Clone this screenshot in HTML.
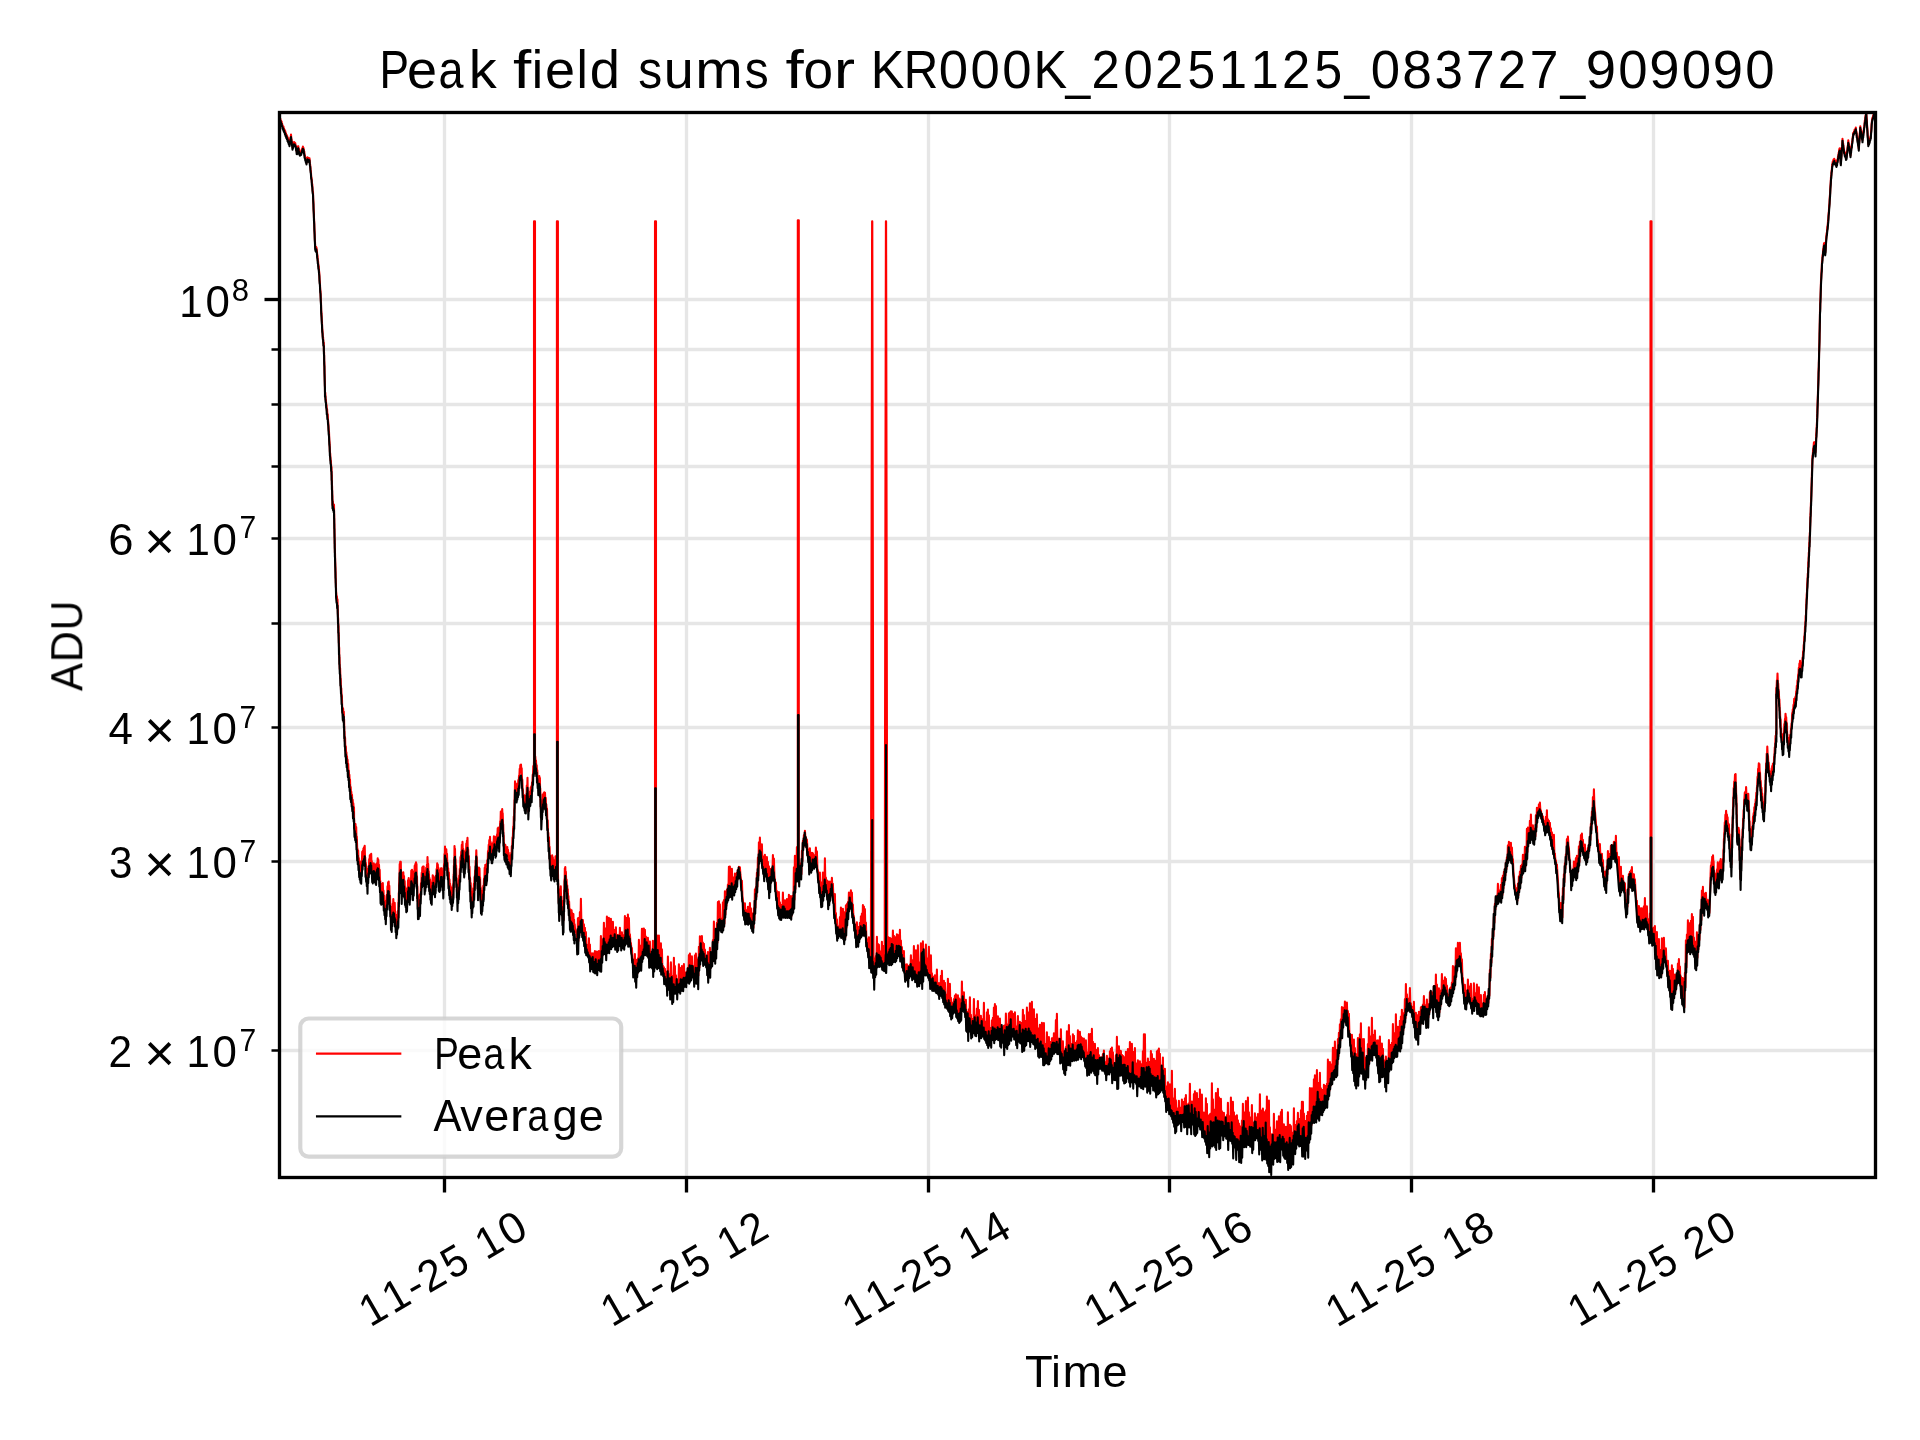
<!DOCTYPE html>
<html lang="en"><head><meta charset="utf-8"><title>Peak field sums for KR000K_20251125_083727_909090</title>
<style>html,body{margin:0;padding:0;background:#fff;width:1920px;height:1440px;overflow:hidden}svg{position:absolute;left:0;top:0}text{font-family:"Liberation Sans",sans-serif}</style></head>
<body>
<svg width="1920" height="1440" viewBox="0 0 1920 1440" style="display:block">
<rect width="1920" height="1440" fill="#fff"/>
<defs><clipPath id="ax"><rect x="279.5" y="112.5" width="1596" height="1065"/></clipPath></defs>
<g stroke="#e6e6e6" stroke-width="3.33" fill="none"><path d="M444.5 112.5V1177.5"/><path d="M686.5 112.5V1177.5"/><path d="M928.5 112.5V1177.5"/><path d="M1169.5 112.5V1177.5"/><path d="M1411.5 112.5V1177.5"/><path d="M1653.5 112.5V1177.5"/><path d="M279.5 299.5H1875.5"/><path d="M279.5 1050.5H1875.5"/><path d="M279.5 861.5H1875.5"/><path d="M279.5 727.5H1875.5"/><path d="M279.5 623.5H1875.5"/><path d="M279.5 538.5H1875.5"/><path d="M279.5 466.5H1875.5"/><path d="M279.5 404.5H1875.5"/><path d="M279.5 349.5H1875.5"/></g>
<g clip-path="url(#ax)" fill="none" stroke-linejoin="round" stroke-linecap="butt">
<path id="peak" stroke="#ff0000" stroke-width="2.08" d="M279.5 117L279.8 116.4L280 118.7L280.3 118.6L280.6 121.1L280.9 120.4L281.2 122.9L281.6 121.6L281.9 124.4L282.2 124.1L282.5 126L282.8 125.8L283.1 128.1L283.4 126.5L283.8 128.7L284.1 128.8L284.4 130.7L284.7 130L285 132L285.3 131.3L285.6 134.2L285.9 133.2L286.2 135.3L286.6 134.8L286.9 137.4L287.2 136L287.5 139.1L287.8 137.6L288.2 140.3L288.5 139.8L288.8 142.4L289.2 141.4L289.5 144.2L289.8 141L290.1 140.7L290.4 137.6L290.7 138.1L291 134.5L291.3 138.7L291.6 139.6L291.9 143.3L292.2 143.6L292.5 147.8L292.8 145L293.1 145.8L293.4 143.1L293.7 144.2L294 142.1L294.3 143.4L294.6 142.8L294.9 144.5L295.2 142.9L295.5 144.8L295.8 145.4L296.1 148.4L296.4 149L296.7 151.7L297 151.6L297.3 151.1L297.7 146.9L298 146.2L298.3 146.3L298.6 149.4L298.9 148.9L299.2 151.7L299.5 152.4L299.9 153.3L300.2 152L300.6 153.5L300.9 151.4L301.2 152.7L301.6 149.8L301.9 151.1L302.2 148.3L302.6 149.6L302.9 146.6L303.2 147.3L303.6 148.4L303.9 151.6L304.3 151.6L304.6 155.6L305 155.8L305.3 158.4L305.6 157.7L305.9 160L306.2 159.5L306.5 162.9L306.8 158.9L307.2 159.7L307.5 157.3L307.8 158.5L308.2 157.8L308.5 159.1L308.8 158.2L309.2 159.7L309.5 158.3L309.9 163.2L310.2 165.1L310.6 169.7L310.9 171.4L311.2 176.8L311.6 178.2L311.9 182.6L312.3 184.8L312.6 190.5L313 192L313.2 199.1L313.4 201.5L313.6 208.9L313.8 211.5L314 218.1L314.2 221.2L314.4 228.5L314.6 231.9L314.8 238.5L315 241.5L315.2 246.3L315.5 248L315.8 249L316.2 247.1L316.5 247.9L316.8 249.9L317.2 254.6L317.5 255.8L317.8 260.6L318.1 261.5L318.4 266.3L318.7 266.1L319 270.7L319.3 273L319.6 279.8L319.9 282.4L320.2 289.3L320.5 291.3L320.8 298.8L321 302.4L321.2 310.5L321.5 313.4L321.8 320.1L322 322.3L322.2 328.6L322.5 331L322.8 337.1L323.1 337.2L323.4 342.8L323.8 342.6L323.9 351.1L324.1 352.5L324.2 360.6L324.4 362.9L324.5 369.7L324.6 373.7L324.8 381.3L324.9 385.5L325 392.2L325.3 392.7L325.6 399.5L325.9 399.8L326.2 404.4L326.5 405L326.8 410.1L327.1 409.4L327.4 415.1L327.7 414.3L328 420.2L328.3 422.7L328.7 430.1L329 431.8L329.3 440L329.6 442.8L329.9 451.8L330.2 453.6L330.6 460.4L330.9 460.7L331.2 467.5L331.5 466.9L331.6 474L331.8 475.4L331.9 484.2L332.1 486.5L332.2 493.6L332.4 496.4L332.5 504.9L332.8 501.2L333.1 505.6L333.4 504L333.7 509L334 504.8L334.1 513.5L334.2 514.6L334.3 523.1L334.4 524.3L334.5 532.5L334.6 534.6L334.7 543.4L334.8 543.5L334.9 552.8L335 552.5L335.2 561.6L335.3 563.5L335.5 571L335.6 572.3L335.8 582.9L335.9 583.3L336.1 592.1L336.2 592L336.6 598.2L336.9 596.4L337.2 603.6L337.5 599.4L337.7 609.7L337.8 609.2L338 617.2L338.2 618.9L338.3 627.5L338.5 625.8L338.7 635.4L338.8 637L339 646.6L339.2 647.8L339.3 657.4L339.5 657.3L339.8 669.3L340.1 668L340.4 678.5L340.7 678.7L341 689.9L341.3 688.3L341.6 696.5L341.9 695.9L342.2 707.9L342.5 707.4L342.8 712.7L343.1 708.6L343.4 713.6L343.8 711.7L343.9 722.1L344.1 719.2L344.3 731.1L344.5 731.5L344.8 741.1L345.1 737.7L345.4 750.4L345.8 746.3L346.1 755.3L346.4 752.4L346.7 759.5L347 756.3L347.3 764.5L347.6 759.8L347.9 768.9L348.2 763.8L348.5 772L348.8 770.4L349.1 778.1L349.4 774.8L349.7 785.2L350 779.5L350.3 789.9L350.7 787L351 794.6L351.3 791.8L351.7 799L352 794.8L352.3 805.6L352.7 799.7L353 806.7L353.3 803.2L353.7 809.8L354 807.3L354.1 819.8L354.2 820.3L354.5 829L354.8 824.1L355.2 829.5L355.5 824L355.8 833.3L356.2 827.1L356.5 841.5L356.8 836.5L357.2 848.6L357.5 848.8L357.8 857.7L358.2 850.6L358.5 863.7L358.8 858.1L359.2 866.8L359.5 861.7L359.8 871.1L360.2 864.7L360.5 872L360.8 867.5L361.2 870.2L361.5 860.7L361.8 864.7L362.2 851.7L362.5 857.7L362.8 850.9L363.1 858.1L363.4 848.5L363.7 855.2L364 847.3L364.4 851.9L364.7 845.8L365 857.2L365.2 857.2L365.5 866L365.8 862.9L366.2 871.4L366.5 868.8L366.8 878.8L367.2 871.7L367.5 882.4L367.8 873.9L368.2 874.5L368.5 866.4L368.8 868.2L369.2 859L369.5 865.6L369.8 855.4L370.2 864.4L370.5 854.5L370.8 858.4L371.2 853.9L371.5 863.7L371.8 861.1L372.2 871.4L372.5 868.2L372.8 873.8L373.2 863.9L373.5 869.9L373.8 863.3L374.2 866L374.5 864.2L374.8 872.8L375.2 864.7L375.5 874.4L375.8 867.1L376.1 872.6L376.5 863.8L376.8 869.3L377.1 863.1L377.4 868.7L377.7 858.3L378 865.2L378.3 859.8L378.7 869.7L379 864.7L379.3 873.3L379.7 869.9L380 882.2L380.3 881.1L380.6 890.2L380.8 890L381.2 898.2L381.5 888L381.8 892.1L382.2 883.7L382.5 887.4L382.8 883.1L383.2 896.5L383.5 890.5L383.8 902L384.2 895.9L384.5 906.6L384.8 900.7L385.2 910.9L385.5 901.6L385.8 914.9L386.2 901.5L386.5 905.2L386.8 894.9L387.2 897.5L387.5 886.3L387.8 891.3L388.1 882.2L388.4 888.9L388.7 881.5L389 893L389.3 885.8L389.7 900.4L390 895.5L390.3 906.3L390.7 906.9L391 918.5L391.3 914.2L391.7 921.4L392 908.1L392.3 916.4L392.7 903.8L393 909.2L393.3 899L393.7 909.9L394 902.5L394.3 911.9L394.7 902.8L395 912.5L395.3 911.4L395.7 923.5L396 917L396.3 927.9L396.7 915.1L397 922.9L397.3 916.8L397.7 922.4L398 910.8L398.3 917.8L398.5 902.2L398.6 906.8L398.8 892.8L398.9 897.8L399.1 882.7L399.2 884.8L399.4 876.8L399.5 876.9L399.7 864L400 869.9L400.2 861.9L400.5 870.8L400.8 861.9L401 873.9L401.2 871.9L401.3 881.9L401.5 878L401.7 889.9L402 882L402.3 885.7L402.7 878.1L403 880L403.3 872.4L403.7 881L404 876.1L404.3 885.7L404.7 881.1L405 890.5L405.3 887.4L405.7 898.4L406 892.9L406.3 903.6L406.7 894.1L407 901L407.3 888.6L407.7 891.9L408 880.4L408.3 883.9L408.7 878.1L409 886.1L409.3 880.4L409.7 894.6L410 887.7L410.3 892.5L410.7 880.2L411 880.6L411.3 870.5L411.7 874.6L412 869.7L412.3 882.7L412.7 877.6L413 889.4L413.3 877.4L413.7 884L414 871.3L414.3 877.2L414.7 865.7L415 873.5L415.3 864.1L415.7 868.5L416 862.4L416.3 866.6L416.5 864L416.8 880.9L417 876.9L417.2 890L417.4 886.5L417.6 901.3L417.8 898L418 909.6L418.3 898.2L418.7 907.5L419 898.7L419.3 904L419.7 894.7L420 902.2L420.3 893.8L420.7 896.5L421 883.3L421.3 883.9L421.7 872.7L422 876.9L422.3 867.2L422.7 875.9L423 866.6L423.3 871.8L423.7 866.6L424 876.1L424.3 871.3L424.7 884.8L425 878.4L425.3 882.3L425.6 874.6L425.9 876.6L426.2 867.9L426.6 875.8L426.9 864.7L427.2 869.9L427.5 857.1L427.8 867.7L428.2 863.9L428.5 877.5L428.8 871.4L429.2 884.1L429.5 878L429.8 885.3L430.1 879.7L430.4 890.8L430.7 882.5L431 895.8L431.3 886.7L431.7 892.9L432 883.3L432.3 886.9L432.7 875.2L433 881.5L433.3 876L433.7 883.7L434 877.9L434.3 886.1L434.7 881.2L435 886.5L435.3 877.2L435.6 885.5L435.9 875.8L436.2 877.1L436.6 869L436.9 871.3L437.2 863.2L437.5 868.5L437.8 864.6L438.2 871.7L438.5 868.1L438.8 881.5L439.2 874L439.5 881.5L439.8 872.7L440.1 880.7L440.4 870.1L440.7 877.3L441 868.2L441.4 876.6L441.7 868.3L442 879.2L442.3 873.3L442.7 882.1L443 877.7L443.3 887L443.6 874.5L443.8 875.8L444 864.1L444.3 866.5L444.5 854.1L444.8 858.3L445 846.5L445.3 855.7L445.7 850.1L446 858.8L446.3 849.2L446.7 859.1L447 853.8L447.3 865.1L447.6 862.9L447.9 873.7L448.2 868.3L448.5 878.5L448.9 872.5L449.2 887.9L449.5 879.5L449.8 887.6L450.1 883.9L450.4 891.4L450.7 886.4L451 898.8L451.4 889.2L451.7 900.3L452 888.2L452.3 896.5L452.7 889.5L453 896.7L453.3 883.5L453.5 889.6L453.6 874.3L453.8 877.2L453.9 865.2L454.1 871.6L454.2 857.6L454.4 858.6L454.5 846.1L454.7 850.9L455 848.9L455.2 859.2L455.5 859.1L455.8 869.2L456.1 865.5L456.4 879.9L456.7 878.4L456.9 891.5L457.2 885.8L457.5 898.2L457.8 890.3L458.2 894.9L458.5 883.8L458.8 887.4L459.2 875.6L459.5 880.5L459.8 868.7L460.2 870.1L460.5 857L460.8 862.5L461.2 851.8L461.5 855.4L461.8 844.9L462.2 849.5L462.5 841.7L462.8 851.5L463.2 848.8L463.5 862.5L463.8 856.7L464.2 868.1L464.5 857.1L464.8 865.1L465.1 851.4L465.4 859.2L465.7 850.2L466 854.8L466.3 843.6L466.6 848.8L466.9 840.7L467.2 845.2L467.5 837.9L467.8 852.2L468.2 849.8L468.5 861.9L468.8 855.7L469.2 870.3L469.5 866.7L469.8 880.9L470.1 878.3L470.4 888.7L470.7 883L471 897.2L471.4 894.3L471.7 905.3L472 897.1L472.3 902.9L472.6 892L472.9 898.3L473.2 888.2L473.5 896.4L473.9 883.8L474.2 889.7L474.5 877L474.8 880.4L475.1 870.4L475.4 872.5L475.7 860.7L476 860.6L476.3 850.3L476.6 860.3L476.8 857.6L477 871.7L477.3 868.2L477.5 879.9L477.8 877.7L478 891L478.3 879.1L478.6 881.9L478.9 867.5L479.2 869.7L479.5 868.6L479.8 880.5L480.1 877.6L480.4 891.5L480.7 887.3L481 903.6L481.3 898.2L481.7 902.6L482 891.3L482.3 899.7L482.7 891.3L483 896.5L483.3 885.9L483.7 888.7L484 878.6L484.3 882L484.7 867.7L485 870.7L485.3 864.8L485.7 871.8L486 864.6L486.3 877.9L486.7 867.7L487 871.5L487.3 860.3L487.7 862.5L488 851.1L488.3 855.7L488.7 844.9L489 849L489.3 840.1L489.7 847.9L490 836.8L490.3 848.1L490.7 842L491 850.7L491.3 845.1L491.7 854.2L492 850.5L492.3 855.3L492.6 843.9L492.9 852.3L493.2 842.2L493.5 845.5L493.9 836.2L494.2 841.7L494.5 836.7L494.8 846.2L495.2 838.2L495.5 849.8L495.8 840.7L496.1 845.4L496.5 836.2L496.8 841L497.1 834.4L497.4 836.5L497.7 828.2L498 834.3L498.3 827.6L498.6 837.5L498.9 834.8L499.2 843L499.5 830.7L499.8 834.2L500.2 821.4L500.5 825.6L500.8 811.5L501.2 820.1L501.5 811.5L501.8 818.5L502.2 809L502.5 816.1L502.7 813.4L503 824L503.2 824.5L503.5 836.8L503.7 835.5L503.9 847.3L504.2 843.4L504.5 849.3L504.8 845.7L505.1 851.5L505.4 845L505.7 855.4L506 847L506.4 856.5L506.7 847.6L507 853.9L507.3 847L507.7 856.2L508 849.9L508.3 856.4L508.7 852.7L509 859.8L509.3 855.5L509.6 864.2L509.9 857.2L510.2 864.1L510.5 855.5L510.8 867.8L511.2 852.9L511.5 858.4L511.8 846.2L512.2 847.6L512.5 837.2L512.8 840.3L513.2 826.6L513.5 831.1L513.8 816.6L514.2 820.9L514.3 807.9L514.4 812.9L514.5 799.6L514.6 802L514.8 789.8L514.9 791.2L515 781.4L515.3 790.1L515.7 783.3L516 791.8L516.3 785.4L516.7 793.2L517 785.2L517.3 788.5L517.7 783.9L518 786.9L518.3 780L518.7 784.7L519 775.9L519.3 777.8L519.7 768.8L520 772.4L520.3 765L520.7 771.8L521 764.6L521.3 770.8L521.7 768.2L522 781.5L522.3 779.5L522.7 790.7L523 790L523.3 799.5L523.6 795.4L524 801L524.3 795.3L524.6 803.1L524.9 797.9L525.2 805.4L525.5 798.8L525.8 804.8L526.2 795.9L526.5 798.4L526.8 785.5L527.2 789.6L527.5 777.7L527.7 791L527.8 791.8L528 800L528.2 800.9L528.3 811.8L528.7 801.1L529 805.3L529.3 797.5L529.7 800.5L530 791.6L530.3 795.6L530.7 787.6L531 793.9L531.3 786.4L531.7 792.2L532 782.5L532.3 785.4L532.7 774.7L533 775.6L533.3 766L533.7 771.4L534 760.4L534.3 764.3L534 764.3L534 221.4L535 221.4L535 756.6L534.7 756.6L535 760.3L535.3 756.5L535.7 763.4L536 760.5L536.3 768.2L536.7 765.3L537 776.3L537.3 770.3L537.7 782.8L538 777.2L538.3 787.1L538.7 778.7L539 780.9L539.3 776.1L539.7 779.7L539.9 778.1L540.1 789.6L540.3 788.4L540.5 799.7L540.7 799.8L540.9 809L541.1 808.8L541.3 818.7L541.7 808.3L542 812.2L542.3 803L542.7 806.7L543 794.2L543.3 802.8L543.7 793.1L544 798.2L544.3 792.3L544.7 794.4L545 792.8L545.3 802.2L545.7 797.9L546 805.2L546.3 804.4L546.7 810.9L547 808.5L547.3 822.2L547.7 820.3L548 834.8L548.3 832.7L548.6 841.6L549 837.2L549.3 851.5L549.6 846.8L549.9 861.2L550.2 855.9L550.5 866.8L550.8 861.4L551.2 867.7L551.5 861.9L551.8 866.3L552.2 855.3L552.5 862.1L552.8 857.4L553.2 866L553.5 860.1L553.8 869.3L554.2 862L554.5 872.1L554.8 862.1L555.2 867.1L555.5 856.4L555.8 864.4L556.1 859.1L556.5 868.6L556.8 862.1L557.1 873.1L557.4 867.9L556.9 867.9L556.9 221.4L557.9 221.4L557.9 879.6L557.7 879.6L558 873.7L558.2 884L558.3 883.4L558.5 892.8L558.7 889L558.8 902.7L559 900.1L559.2 909.6L559.5 899.7L559.8 905.6L560.2 893.3L560.5 897.9L560.8 886.4L561.1 900.5L561.5 896.6L561.8 906.8L562.1 901L562.4 915.5L562.7 912.1L563 923.6L563.3 915.7L563.5 920.6L563.6 906.3L563.8 911.3L563.9 900.2L564.1 903.7L564.2 890.3L564.4 893.6L564.5 879.1L564.7 882.6L564.8 868.4L565 871.8L565.3 867L565.6 878.1L565.9 871.9L566.2 883.3L566.6 879.5L566.9 887.1L567.2 885.2L567.5 893.7L567.8 889.3L568.1 899L568.4 896L568.8 907.5L569.1 901.5L569.4 910.5L569.7 909.2L570 918.9L570.3 909.3L570.6 918.2L570.9 911.6L571.2 921.5L571.6 910.2L571.9 921.2L572.2 913L572.5 922.8L572.8 914.1L573.1 924.4L573.4 914L573.8 928.5L574.1 919.9L574.4 931.5L574.7 924.3L575 928.7L576.9 935.5L577.4 946.7L577.9 918.3L578.4 941.1L578.9 917.8L579.4 935.5L579.9 912.1L580.4 929.9L580.9 898.7L581.4 924.3L581.9 921.2L582.4 928.9L582.9 920.1L583.4 935.6L583.9 924.3L584.4 941.2L584.9 927.7L585.4 945L585.9 932.1L586.4 948.7L586.9 944.8L587.4 952.5L587.9 947.2L588.4 955.2L588.9 938.3L589.4 958L589.9 944.5L590.4 960.8L590.9 953L591.4 963.2L591.9 957.1L592.4 965.4L592.9 953.4L593.4 967.7L593.9 960.8L594.4 969L594.9 951.1L595.4 968.5L595.9 958.9L596.4 968L596.9 951.5L597.4 967.5L597.9 958.8L598.4 966.8L598.9 951L599.4 966L599.9 954.3L600.4 965.2L600.9 936.1L601.4 961.3L601.9 939.4L602.4 955.8L602.9 941L603.4 950.3L603.9 922.8L604.4 947L604.9 928.2L605.4 948L605.9 934.8L606.4 949L606.9 916.5L607.4 950L607.9 932.7L608.4 947.5L608.9 917.9L609.4 945L609.9 933.5L610.4 942.5L610.9 918.8L611.4 941.7L611.9 933.7L612.4 941.7L612.9 921.8L613.4 941.7L613.9 930.7L614.4 941.8L614.9 929.9L615.4 942.3L615.9 927.2L616.4 942.8L616.9 936.1L617.4 943.3L617.9 935.1L618.4 943.1L618.9 935.9L619.4 942.8L619.9 927.8L620.4 942.6L620.9 935.5L621.4 943.2L621.9 932.3L622.4 944.2L622.9 935L623.4 945.2L623.9 935.3L624.4 945L624.9 916.1L625.4 942.4L625.9 924.6L626.4 939.8L626.9 917.8L627.4 937.2L627.9 914.5L628.4 935.6L628.9 918.1L629.4 938.9L629.9 934.4L630.4 942.2L630.9 943L631.4 949.3L631.9 947.9L632.4 958.3L632.9 959.7L633.4 967.3L633.9 966.9L634.4 974.2L634.9 954L635.4 976.9L635.9 960.9L636.4 977.4L636.9 959.7L637.4 973.4L637.9 958.4L638.4 969.4L638.9 939.9L639.4 965.9L639.9 945.6L640.4 963.7L640.9 950.5L641.4 961.4L641.9 928.9L642.4 959.2L642.9 928.9L643.4 955.7L643.9 928.5L644.4 952.2L644.9 929.9L645.4 948.7L645.9 936.5L646.4 947.7L646.9 940.7L647.4 948.1L647.9 937.7L648.4 949.4L648.9 947.2L649.4 956.1L649.9 941.6L650.4 962.8L650.9 953.1L651.4 964.5L651.9 953.2L652.4 963.8L652.9 940.8L653.4 963L653.9 949.7L654.4 962.2L654.9 940.9L655.4 961.4L655 961.4L655 221.4L656 221.4L656 937.7L655.9 937.7L656.4 960.6L656.9 935.3L657.4 959.7L657.9 941L658.4 958.9L658.9 935.5L659.4 959.5L659.9 945.6L660.4 963L660.9 943.2L661.4 966.5L661.9 949.2L662.4 970L662.9 965.9L663.4 973.5L663.9 967.3L664.4 977L664.9 968.7L665.4 980.5L665.9 971.6L666.4 982L666.9 972.5L667.4 982.5L667.9 956.5L668.4 983L668.9 974L669.4 983.7L669.9 974.1L670.4 985L670.9 962.4L671.4 986.2L671.9 975.9L672.4 987.5L672.9 976.2L673.4 988.2L673.9 957.7L674.4 988.9L674.9 966L675.4 989.5L675.9 975.3L676.4 989.9L676.9 980.3L677.4 989.6L677.9 979.6L678.4 989.4L678.9 964.3L679.4 988.8L679.9 967.7L680.4 987.5L680.9 977.9L681.4 986.2L681.9 966.1L682.4 985L682.9 972.5L683.4 984.6L683.9 964L684.4 984.2L684.9 972.3L685.4 983.9L685.9 972.8L686.4 982.3L686.9 971.6L687.4 980.2L687.9 967.9L688.4 978.1L688.9 955L689.4 976.3L689.9 953.6L690.4 975.3L690.9 958.4L691.4 974.3L691.9 956.4L692.4 973.3L692.9 966.5L693.4 974.8L693.9 966.1L694.4 976.3L694.9 955.4L695.4 977.8L695.9 953.6L696.4 977.9L696.9 966.5L697.4 977.2L697.9 959.2L698.4 975.4L698.9 946.8L699.4 967.6L699.9 936.3L700.4 959.9L700.9 942.7L701.4 952.1L701.9 936.1L702.4 952.5L702.9 942.5L703.4 954.5L703.9 943.8L704.4 957.2L704.9 949.5L705.4 961.2L705.9 957.3L706.4 965.2L706.9 960.7L707.4 967.4L707.9 952L708.4 969.3L708.9 954.4L709.4 971.2L709.9 947.9L710.4 968.1L710.9 956.9L711.4 964.9L711.9 953.2L712.4 961.7L712.9 940L713.4 955.7L713.9 921.6L714.4 949.7L714.9 930.7L715.4 946.7L715.9 934.7L716.4 946.7L716.9 922.7L717.4 942.8L717.9 902.1L718.4 931.1L718.9 901.2L719.4 924.1L719.9 904.4L720.4 926.4L720.9 918.6L721.4 928.8L721.9 918.9L722.4 928.3L722.9 902.3L723.4 927.3L723.9 900.1L724.4 923.7L724.9 891.4L725.4 914.7L725.9 894.8L726.4 905.7L726.9 889.9L727.4 899.7L727.9 884.5L728.4 894.4L728.9 866.8L729.4 891.1L729.9 866.6L730.4 891.7L730.9 881.1L731.4 892.4L731.9 868.8L732.4 891.9L732.9 879.4L733.4 891.1L733.9 877.4L734.4 890.4L734.9 873.5L735.4 888L735.9 876L736.4 884L736.9 872.8L737.4 880L737.9 869.7L738.4 876L738.9 866.7L739.4 872L739.9 867.4L740.4 874.7L740.9 879.2L741.4 884.2L741.9 880.9L742.4 895.8L742.9 899.8L743.4 907.8L743.9 904.3L744.4 916.5L744.9 903.3L745.4 918.5L745.9 913.1L746.4 920.5L746.9 910.1L747.4 920L747.9 906.9L748.4 919L748.9 907.4L749.4 919L749.9 903.1L750.4 921L750.9 908.2L751.4 923L751.9 919.4L752.4 925.4L752.9 913.3L753.4 927.9L753.9 908.4L754.4 920.3L754.9 889.4L755.4 907.6L755.9 887L756.4 896.7L756.9 872.8L757.4 886.7L757.9 857.5L758.4 875.7L758.9 842.2L759.4 859.7L759.9 837.5L760.4 853.8L760.9 850.6L761.4 858.2L761.9 844.3L762.4 862.5L762.9 856.2L763.4 869.5L763.9 858.4L764.4 873.8L764.9 854.7L765.4 872.8L765.9 863.1L766.4 871.8L766.9 857.1L767.4 876.9L767.9 861.9L768.4 883.3L768.9 866.2L769.4 886.4L769.9 873L770.4 883.1L770.9 868.7L771.4 879.7L771.9 867.9L772.4 874.7L772.9 855L773.4 869.3L773.9 858.6L774.4 875.6L774.9 881.2L775.4 887.6L775.9 882.6L776.4 896.8L776.9 891L777.4 904.4L777.9 904.7L778.4 911.1L778.9 892.1L779.4 912.8L779.9 902.2L780.4 914.4L780.9 904.7L781.4 914.3L781.9 905.3L782.4 913.3L782.9 892.5L783.4 912.6L783.9 902.5L784.4 913.3L784.9 900.2L785.4 913.9L785.9 905.2L786.4 914.2L786.9 899L787.4 914.2L787.9 903.2L788.4 914.2L788.9 894.7L789.4 914.4L789.9 897.9L790.4 915.3L790.9 896L791.4 916.1L791.9 900.2L792.4 911.9L792.9 895.7L793.4 906.8L793.9 867.4L794.4 899.8L794.9 855.9L795.4 889.1L795.9 857.2L796.4 878.4L796.9 847.1L797.4 876.2L797.9 855.5L797.8 855.5L797.8 220.2L798.8 220.2L798.8 875.8L798.4 875.8L798.9 859.1L799.4 875.2L799.9 863.4L800.4 874.8L800.9 864.8L801.4 874.2L801.9 850.8L802.4 861.3L802.9 840.8L803.4 847.5L803.9 835.1L804.4 842.5L804.9 830.7L805.4 837.5L805.9 837.6L806.4 842.5L806.9 839.5L807.4 847.5L807.9 850.1L808.4 858.5L808.9 851.1L809.4 866.1L809.9 848.2L810.4 866.7L810.9 853.9L811.4 867.4L811.9 852.8L812.4 866.1L812.9 853.3L813.4 864.4L813.9 856.8L814.4 863.1L814.9 855L815.4 862.4L815.9 847.5L816.4 861.8L816.9 851.3L817.4 868.6L817.9 870.3L818.4 876.9L818.9 878.7L819.4 885L819.9 872.6L820.4 892.5L820.9 882.4L821.4 900L821.9 884L822.4 898.3L822.9 872.5L823.4 894.8L823.9 873L824.4 891L824.9 858.3L825.4 886.5L825.9 877.5L826.4 888.7L826.9 880.2L827.4 894.2L827.9 881.2L828.4 899.7L828.9 892.5L829.4 901.8L829.9 881.6L830.4 897L830.9 885.5L831.4 892.3L831.9 877.8L832.4 887.5L832.9 883.9L833.4 899.2L833.9 899.4L834.4 910.8L834.9 894L835.4 920.3L835.9 913L836.4 927.7L836.9 919.3L837.4 935L837.9 927.5L838.4 934L838.9 926.4L839.4 933L839.9 917.1L840.4 932.5L840.9 907.5L841.4 932.5L841.9 913.7L842.4 932.5L842.9 908.8L843.4 936.2L843.9 930.5L844.4 939.8L844.9 912L845.4 937L845.9 905.3L846.4 927.7L846.9 904L847.4 918.3L847.9 902.1L848.4 912L848.9 892.5L849.4 905.7L849.9 896.3L850.4 903.7L850.9 890.4L851.4 906L851.9 892.6L852.4 909.9L852.9 904.5L853.4 916.9L853.9 916.1L854.4 924.1L854.9 924.6L855.4 931.5L855.9 930.8L856.4 938.8L856.9 922.3L857.4 942.8L857.9 929.8L858.4 940L858.9 926.9L859.4 937.2L859.9 922.7L860.4 935.2L860.9 916.3L861.4 933.8L861.9 913.6L862.4 932.5L862.9 905.1L863.4 931.2L863.9 906.6L864.4 929.8L864.9 909.1L865.4 932.5L865.9 922.5L866.4 939.2L866.9 939.1L867.4 945.8L867.9 945.8L868.4 951.6L868.9 937.3L869.4 957.3L869.9 954.4L870.4 963.1L870.9 950.5L871.4 967.2L871.9 959.1L870.9 959.1L872.1 221.4L872.3 221.4L873.5 970.5L872.4 970.5L872.9 946.9L873.4 973.8L873.9 964.3L874.4 977.1L874.9 958.4L875.4 974.8L875.9 956L876.4 967L876.9 936.8L877.4 959.2L877.9 944.1L878.4 959.9L878.9 944.7L879.4 960.7L879.9 951.3L880.4 961.4L880.9 954.1L881.4 963.1L881.9 941.8L882.4 965.2L882.9 945.7L883.4 967.3L883.9 946.2L884.4 967.9L884.9 933.2L885.4 965.4L885.9 944.4L884.7 944.4L885.9 221.4L886.1 221.4L887.3 962.9L886.4 962.9L886.9 948.7L887.4 960.4L887.9 936.9L888.4 958.1L888.9 943.5L889.4 956.8L889.9 937.8L890.4 955.4L890.9 938.8L891.4 952.1L891.9 938.5L892.4 953.9L892.9 930.5L893.4 955.7L893.9 935.8L894.4 957.6L894.9 946.9L895.4 959.4L895.9 937L896.4 958.2L896.9 934.3L897.4 955.4L897.9 935.1L898.4 952.7L898.9 938.6L899.4 951.5L899.9 929.9L900.4 953.5L900.9 940.6L901.4 955.5L901.9 947L902.4 957.5L902.9 952.1L903.4 963.7L903.9 951.1L904.4 970L904.9 964.2L905.4 976.2L905.9 965.1L906.4 977.7L906.9 964.4L907.4 976.7L907.9 966.2L908.4 975.7L908.9 965.9L909.4 974.7L909.9 965.1L910.4 973.7L910.9 955.3L911.4 973.7L911.9 962.5L912.4 974.2L912.9 960.1L913.4 974.7L913.9 946L914.4 975.2L914.9 955.9L915.4 975.7L915.9 950.4L916.4 977L916.9 952.7L917.4 978.7L917.9 945.4L918.4 980.5L918.9 969L919.4 980.6L919.9 962.4L920.4 977.4L920.9 943.4L921.4 974.3L921.9 956.4L922.4 971.1L922.9 941.4L923.4 967.9L923.9 957.3L924.4 966.6L924.9 959.8L925.4 968.7L925.9 944.5L926.4 970.9L926.9 959L927.4 973.1L927.9 958.3L928.4 975.2L928.9 946.8L929.4 977.4L929.9 969.1L930.4 979.7L930.9 955.4L931.4 981.9L931.9 973.4L932.4 984.2L932.9 976.5L933.4 985.3L933.9 977.9L934.4 986.5L934.9 975.2L935.4 987.7L935.9 977.3L936.4 988.8L936.9 969.5L937.4 990L937.9 983L938.4 990.7L938.9 983.3L939.4 991.3L939.9 983L940.4 992L940.9 975.8L941.4 992.7L941.9 970.9L942.4 993.3L942.9 981.3L943.4 995.8L943.9 980.8L944.4 998.3L944.9 982.7L945.4 1000.8L945.9 994.5L946.4 1003.3L946.9 995.4L947.4 1005.8L947.9 978.7L948.4 1007.3L948.9 997.5L949.4 1008.8L949.9 983.9L950.4 1010.3L950.9 997.8L951.4 1011.8L951.9 1003.6L952.4 1013.3L952.9 1002.6L953.4 1010.8L953.9 999.1L954.4 1008.3L954.9 995.6L955.4 1005.8L955.9 994.4L956.4 1008.2L956.9 996.2L957.4 1012.9L957.9 995.2L958.4 1017.7L958.9 998.3L959.4 1019.5L959.9 1003.8L960.4 1015.5L960.9 999.4L961.4 1011.5L961.9 981.5L962.4 1007.5L962.9 998L963.4 1005L963.9 992.2L964.4 1009.8L964.9 1001.4L965.4 1014.6L965.9 999.7L966.4 1019.4L966.9 1011.8L967.4 1024.2L967.9 1011.9L968.4 1025.3L968.9 1009.4L969.4 1026.5L969.9 997.3L970.4 1027.7L970.9 1014.8L971.4 1028.8L971.9 1018.7L972.4 1030L972.9 1018.7L973.4 1029.7L973.9 999L974.4 1029.3L974.9 1015.4L975.4 1029L975.9 1017.6L976.4 1028.7L976.9 1008.6L977.4 1028.3L977.9 1001.1L978.4 1029L978.9 1009.8L979.4 1029.7L979.9 1019.2L980.4 1030.3L980.9 1015.9L981.4 1031L981.9 1019.1L982.4 1031.7L982.9 1023.4L983.4 1033.8L983.9 1002.9L984.4 1036L984.9 1021.6L985.4 1038.1L985.9 1029L986.4 1040.2L986.9 1012.2L987.4 1042.4L987.9 1009.5L988.4 1043.9L988.9 1015.2L989.4 1042.3L989.9 1028.4L990.4 1040.8L990.9 1027.8L991.4 1039.2L991.9 1020.4L992.4 1037.6L992.9 1017.7L993.4 1036L993.9 1007.5L994.4 1035L994.9 1004L995.4 1035L995.9 1006L996.4 1035L996.9 1021.7L997.4 1035L997.9 1016.2L998.4 1035L998.9 1024.7L999.4 1035.4L999.9 1018.5L1000.4 1036.5L1000.9 1026.5L1001.4 1037.7L1001.9 1027L1002.4 1038.8L1002.9 1027.6L1003.4 1040L1003.9 1025.8L1004.4 1041.1L1004.9 1025.4L1005.4 1040.7L1005.9 1013.6L1006.4 1038.7L1006.9 1025.8L1007.4 1036.7L1007.9 1024.2L1008.4 1034.7L1008.9 1013.3L1009.4 1032.7L1009.9 1012.2L1010.4 1030.7L1010.9 1011.4L1011.4 1030.9L1011.9 1011.6L1012.4 1032.2L1012.9 1013.7L1013.4 1033.6L1013.9 1017.3L1014.4 1034.9L1014.9 1012.3L1015.4 1036.2L1015.9 1026.6L1016.4 1037L1016.9 1026.4L1017.4 1037.5L1017.9 1016.1L1018.4 1038L1018.9 1028L1019.4 1038.3L1019.9 1021.7L1020.4 1038.3L1020.9 1026.3L1021.4 1038.3L1021.9 1022.7L1022.4 1038.3L1022.9 1009.8L1023.4 1038.3L1023.9 1015.1L1024.4 1038.3L1024.9 1020.7L1025.4 1038.1L1025.9 1023.8L1026.4 1038L1026.9 1007.5L1027.4 1037.9L1027.9 1012.4L1028.4 1037.7L1028.9 1018.6L1029.4 1037.6L1029.9 1003.4L1030.4 1037.9L1030.9 1012.4L1031.4 1038.8L1031.9 1001.8L1032.4 1039.6L1032.9 1016.5L1033.4 1040.5L1033.9 1009.2L1034.4 1041.4L1034.9 1023L1035.4 1042.2L1035.9 1018.9L1036.4 1043.5L1036.9 1014.4L1037.4 1045L1037.9 1034.3L1038.4 1046.5L1038.9 1028.3L1039.4 1048L1039.9 1024.9L1040.4 1049.5L1040.9 1038.5L1041.4 1051.2L1041.9 1022.9L1042.4 1053.1L1042.9 1028.8L1043.4 1055L1043.9 1023.1L1044.4 1056.8L1044.9 1043.9L1045.4 1058.7L1045.9 1044.4L1046.4 1060.5L1046.9 1032.2L1047.4 1060.6L1047.9 1046.9L1048.4 1060.4L1048.9 1037L1049.4 1060.1L1049.9 1045L1050.4 1058.3L1050.9 1041.8L1051.4 1055L1051.9 1038.2L1052.4 1051.7L1052.9 1038.1L1053.4 1050.5L1053.9 1033.4L1054.4 1049.3L1054.9 1036.8L1055.4 1048.2L1055.9 1020.1L1056.4 1047L1056.9 1013.8L1057.4 1045.8L1057.9 1038.3L1058.4 1048.3L1058.9 1041.3L1059.4 1050.8L1059.9 1044.2L1060.4 1053.3L1060.9 1029.3L1061.4 1055.8L1061.9 1049.7L1062.4 1058.3L1062.9 1041.3L1063.4 1061.3L1063.9 1051.3L1064.4 1064.3L1064.9 1051.8L1065.4 1064L1065.9 1047L1066.4 1060.3L1066.9 1031.4L1067.4 1056.7L1067.9 1045.2L1068.4 1056.8L1068.9 1025.1L1069.4 1057L1069.9 1036.1L1070.4 1057.1L1070.9 1043.9L1071.4 1057.2L1071.9 1044.5L1072.4 1057.4L1072.9 1034.2L1073.4 1057.3L1073.9 1035.7L1074.4 1056.3L1074.9 1043.1L1075.4 1055.3L1075.9 1042.9L1076.4 1054.3L1076.9 1041L1077.4 1053.3L1077.9 1030.2L1078.4 1052.8L1078.9 1039.1L1079.4 1052.3L1079.9 1031.9L1080.4 1051.8L1080.9 1036.5L1081.4 1051.3L1081.9 1037.8L1082.4 1050.8L1082.9 1041.1L1083.4 1054.3L1083.9 1038.6L1084.4 1057.8L1084.9 1045.2L1085.4 1061.3L1085.9 1040.3L1086.4 1064.8L1086.9 1055.5L1087.4 1068.3L1087.9 1052.2L1088.4 1067.2L1088.9 1034.1L1089.4 1066L1089.9 1048.7L1090.4 1064.9L1090.9 1033.7L1091.4 1063.8L1091.9 1028.9L1092.4 1062.6L1092.9 1041.8L1093.4 1062L1093.9 1053.5L1094.4 1064L1094.9 1043.7L1095.4 1066L1095.9 1049.9L1096.4 1068L1096.9 1060.2L1097.4 1070L1097.9 1048L1098.4 1067.8L1098.9 1055L1099.4 1065.5L1099.9 1057.3L1100.4 1063.3L1100.9 1057.6L1101.4 1063.5L1101.9 1057.9L1102.4 1065L1102.9 1054L1103.4 1066.5L1103.9 1050.5L1104.4 1068L1104.9 1062.1L1105.4 1069.5L1105.9 1062.7L1106.4 1069.8L1106.9 1055.7L1107.4 1069.6L1107.9 1059.2L1108.4 1069.3L1108.9 1058.6L1109.4 1069.1L1109.9 1051.2L1110.4 1068.8L1110.9 1048.8L1111.4 1068.6L1111.9 1047.6L1112.4 1068.3L1112.9 1052.3L1113.4 1070.6L1113.9 1064.6L1114.4 1072.8L1114.9 1065.3L1115.4 1075.1L1115.9 1055.2L1116.4 1074.3L1116.9 1036.9L1117.4 1072.1L1117.9 1057.1L1118.4 1069.8L1118.9 1046.2L1119.4 1068.5L1119.9 1050.5L1120.4 1069L1120.9 1051.1L1121.4 1069.5L1121.9 1054.9L1122.4 1070L1122.9 1055.7L1123.4 1070.5L1123.9 1057L1124.4 1071L1124.9 1059.3L1125.4 1071.5L1125.9 1051.7L1126.4 1072.4L1126.9 1055.9L1127.4 1073.6L1127.9 1049L1128.4 1074.8L1128.9 1052.8L1129.4 1075.9L1129.9 1042L1130.4 1077.1L1130.9 1062L1131.4 1077.3L1131.9 1043.7L1132.4 1077.1L1132.9 1059.8L1133.4 1076.8L1133.9 1051.7L1134.4 1077.2L1134.9 1048L1135.4 1078.7L1135.9 1063.2L1136.4 1080.2L1136.9 1063.8L1137.4 1081.7L1137.9 1060.3L1138.4 1083.2L1138.9 1071.7L1139.4 1083.6L1139.9 1061.4L1140.4 1081.9L1140.9 1067.7L1141.4 1080.3L1141.9 1064.1L1142.4 1078.6L1142.9 1051.3L1143.4 1076.9L1143.9 1034.3L1144.4 1076.2L1144.9 1034.3L1145.4 1077.2L1145.9 1062.6L1146.4 1078.2L1146.9 1065.4L1147.4 1079.2L1147.9 1058.6L1148.4 1080.2L1148.9 1061.8L1149.4 1081.1L1149.9 1063.9L1150.4 1081.7L1150.9 1051.1L1151.4 1082.4L1151.9 1054L1152.4 1083.1L1152.9 1059.9L1153.4 1083.7L1153.9 1058.7L1154.4 1084.8L1154.9 1062.1L1155.4 1086.5L1155.9 1060.5L1156.4 1088.2L1156.9 1051.3L1157.4 1090L1157.9 1050.2L1158.4 1088.5L1158.9 1048.5L1159.4 1087L1159.9 1053.7L1160.4 1085.5L1160.9 1072.4L1161.4 1084L1161.9 1066L1162.4 1082.5L1162.9 1057.6L1163.4 1087.7L1163.9 1075.7L1164.4 1092.9L1164.9 1068.7L1165.4 1098.1L1165.9 1086.3L1166.4 1103.3L1166.9 1086.2L1167.4 1105.7L1167.9 1082.3L1168.4 1107.5L1168.9 1091.3L1169.4 1109.3L1169.9 1084.4L1170.4 1111.1L1170.9 1093.1L1171.4 1113.2L1171.9 1070.8L1172.4 1115.6L1172.9 1098.2L1173.4 1117.9L1173.9 1100.2L1174.4 1120.2L1174.9 1088.9L1175.4 1122.6L1175.9 1100.4L1176.4 1122.6L1176.9 1109.9L1177.4 1121.4L1177.9 1108.3L1178.4 1120.2L1178.9 1100.8L1179.4 1119.1L1179.9 1108.4L1180.4 1117.9L1180.9 1107.5L1181.4 1117.8L1181.9 1099.5L1182.4 1118.3L1182.9 1101.8L1183.4 1118.8L1183.9 1105.8L1184.4 1119.3L1184.9 1098.2L1185.4 1119.8L1185.9 1095.1L1186.4 1119.8L1186.9 1107.1L1187.4 1119.6L1187.9 1104.2L1188.4 1119.3L1188.9 1103.2L1189.4 1119.1L1189.9 1083.7L1190.4 1118.8L1190.9 1105.9L1191.4 1118.6L1191.9 1101.5L1192.4 1118.3L1192.9 1105.4L1193.4 1119L1193.9 1094L1194.4 1119.7L1194.9 1091.4L1195.4 1120.3L1195.9 1110L1196.4 1121L1196.9 1093.1L1197.4 1121.7L1197.9 1098.8L1198.4 1122.8L1198.9 1110.8L1199.4 1124L1199.9 1089.5L1200.4 1125.2L1200.9 1110.5L1201.4 1126.3L1201.9 1094.5L1202.4 1127.5L1202.9 1117L1203.4 1131L1203.9 1112.5L1204.4 1134.5L1204.9 1113.7L1205.4 1138L1205.9 1098.3L1206.4 1141.5L1206.9 1103.9L1207.4 1145L1207.9 1115.2L1208.4 1142.3L1208.9 1124.3L1209.4 1139.7L1209.9 1114.4L1210.4 1137L1210.9 1113.5L1211.4 1134.3L1211.9 1083.2L1212.4 1131.7L1212.9 1099.3L1213.4 1131.9L1213.9 1109.6L1214.4 1132.2L1214.9 1110.5L1215.4 1132.4L1215.9 1093.1L1216.4 1132.7L1216.9 1115.7L1217.4 1132.9L1217.9 1088.9L1218.4 1133.2L1218.9 1097.2L1219.4 1133.1L1219.9 1108.4L1220.4 1132.2L1220.9 1098.9L1221.4 1131.4L1221.9 1111.4L1222.4 1130.6L1222.9 1116.8L1223.4 1129.7L1223.9 1112.8L1224.4 1129.5L1224.9 1119L1225.4 1130.7L1225.9 1119.8L1226.4 1131.8L1226.9 1115L1227.4 1132.9L1227.9 1102.8L1228.4 1134L1228.9 1121.5L1229.4 1135.2L1229.9 1116L1230.4 1136.3L1230.9 1097.5L1231.4 1137.3L1231.9 1105L1232.4 1138.3L1232.9 1101.8L1233.4 1139.3L1233.9 1112.2L1234.4 1140.3L1234.9 1116L1235.4 1141.3L1235.9 1116.3L1236.4 1142.4L1236.9 1115.3L1237.4 1143.5L1237.9 1120.2L1238.4 1144.6L1238.9 1123.6L1239.4 1145.7L1239.9 1126.2L1240.4 1145.4L1240.9 1127.4L1241.4 1143.6L1241.9 1120.5L1242.4 1141.8L1242.9 1103.7L1243.4 1140L1243.9 1112.4L1244.4 1138.2L1244.9 1121.2L1245.4 1136.4L1245.9 1101L1246.4 1136.7L1246.9 1124.1L1247.4 1138.1L1247.9 1097.6L1248.4 1139.4L1248.9 1112.2L1249.4 1140.7L1249.9 1117.2L1250.4 1142.1L1250.9 1121.3L1251.4 1141.1L1251.9 1105.1L1252.4 1138.9L1252.9 1124.4L1253.4 1136.7L1253.9 1122.8L1254.4 1134.6L1254.9 1113.3L1255.4 1132.4L1255.9 1118.5L1256.4 1132.9L1256.9 1117.2L1257.4 1134.7L1257.9 1114.1L1258.4 1136.6L1258.9 1124.7L1259.4 1138.4L1259.9 1094.3L1260.4 1140.2L1260.9 1110.2L1261.4 1141.3L1261.9 1126.9L1262.4 1142.1L1262.9 1108.5L1263.4 1142.8L1263.9 1117.8L1264.4 1143.6L1264.9 1112L1265.4 1144.3L1265.9 1110.2L1266.4 1145.1L1266.9 1096.6L1267.4 1145.8L1267.9 1131.8L1268.4 1147.5L1268.9 1100.5L1269.4 1149.3L1269.9 1127.2L1270.4 1151L1270.9 1136.1L1271.4 1152.7L1271.9 1134.2L1272.4 1154.4L1272.9 1135.8L1273.4 1155.6L1273.9 1113.9L1274.4 1154.3L1274.9 1129.6L1275.4 1153L1275.9 1138.2L1276.4 1151.8L1276.9 1121.4L1277.4 1150.5L1277.9 1128.5L1278.4 1149.2L1278.9 1116.3L1279.4 1148L1279.9 1134.6L1280.4 1147L1280.9 1112.1L1281.4 1146L1281.9 1109.8L1282.4 1145L1282.9 1131.7L1283.4 1144L1283.9 1124.4L1284.4 1144.6L1284.9 1134.1L1285.4 1148.5L1285.9 1126.8L1286.4 1152.4L1286.9 1139.9L1287.4 1156.2L1287.9 1112.4L1288.4 1154.9L1288.9 1138L1289.4 1153.5L1289.9 1124.8L1290.4 1152.1L1290.9 1126L1291.4 1150.7L1291.9 1133.1L1292.4 1148.6L1292.9 1132.6L1293.4 1146.4L1293.9 1108.2L1294.4 1144.1L1294.9 1129.5L1295.4 1141.9L1295.9 1124.8L1296.4 1139.7L1296.9 1121.1L1297.4 1137.5L1297.9 1112.9L1298.4 1138.1L1298.9 1118.9L1299.4 1138.6L1299.9 1123.4L1300.4 1139.2L1300.9 1110.3L1301.4 1139.8L1301.9 1101.7L1302.4 1140.4L1302.9 1101.9L1303.4 1140.9L1303.9 1113.5L1304.4 1141.6L1304.9 1120.9L1305.4 1142.3L1305.9 1126.5L1306.4 1142.9L1306.9 1115.7L1307.4 1143.6L1307.9 1112.1L1308.4 1143.2L1308.9 1114.8L1309.4 1137.2L1309.9 1088.1L1310.4 1131.2L1310.9 1110.6L1311.4 1125.2L1311.9 1088.3L1312.4 1119.2L1312.9 1089.5L1313.4 1116.7L1313.9 1079.2L1314.4 1114.2L1314.9 1075.4L1315.4 1111.7L1315.9 1094.9L1316.4 1109.2L1316.9 1070.1L1317.4 1106.7L1317.9 1090.1L1318.4 1107.7L1318.9 1082.9L1319.4 1108.7L1319.9 1072.8L1320.4 1109.7L1320.9 1088.3L1321.4 1110.7L1321.9 1089.9L1322.4 1111.7L1322.9 1097.5L1323.4 1109.3L1323.9 1084.8L1324.4 1107L1324.9 1091L1325.4 1104.7L1325.9 1085.8L1326.4 1102.3L1326.9 1083.7L1327.4 1100L1327.9 1059.5L1328.4 1095.3L1328.9 1068.7L1329.4 1090.7L1329.9 1062L1330.4 1086L1330.9 1070.2L1331.4 1081.3L1331.9 1064.3L1332.4 1076.7L1332.9 1047.7L1333.4 1075.3L1333.9 1063.5L1334.4 1073.9L1334.9 1041.6L1335.4 1072.5L1335.9 1056L1336.4 1071.1L1336.9 1049.9L1337.4 1064.2L1337.9 1039.1L1338.4 1056.2L1338.9 1032.8L1339.4 1048.2L1339.9 1024.2L1340.4 1040.2L1340.9 1019.2L1341.4 1033.9L1341.9 1007.1L1342.4 1028.5L1342.9 1011.5L1343.4 1023.1L1343.9 1007.6L1344.4 1017.7L1344.9 1001.6L1345.4 1016L1345.9 1007.3L1346.4 1018L1346.9 1002.6L1347.4 1020L1347.9 1011L1348.4 1027L1348.9 1013.9L1349.4 1034L1349.9 1034.2L1350.4 1041L1350.9 1038.3L1351.4 1048.2L1351.9 1034.7L1352.4 1055.6L1352.9 1049.6L1353.4 1062.9L1353.9 1039.6L1354.4 1070.2L1354.9 1048.1L1355.4 1077.6L1355.9 1063.5L1356.4 1076.7L1356.9 1054.1L1357.4 1071.7L1357.9 1038L1358.4 1066.7L1358.9 1042.4L1359.4 1061.7L1359.9 1034.2L1360.4 1056.7L1360.9 1023.3L1361.4 1058.2L1361.9 1038.9L1362.4 1062.9L1362.9 1046.8L1363.4 1067.7L1363.9 1039.1L1364.4 1072.4L1364.9 1057.8L1365.4 1077.2L1365.9 1062.9L1366.4 1075.6L1366.9 1056L1367.4 1070.8L1367.9 1044L1368.4 1066.1L1368.9 1027.2L1369.4 1061.3L1369.9 1036.2L1370.4 1056.6L1370.9 1040.8L1371.4 1053.7L1371.9 1017.8L1372.4 1051.7L1372.9 1034.7L1373.4 1049.7L1373.9 1035.6L1374.4 1047.7L1374.9 1030.6L1375.4 1049.3L1375.9 1040.3L1376.4 1054.5L1376.9 1048.4L1377.4 1059.7L1377.9 1040.4L1378.4 1064.9L1378.9 1044.9L1379.4 1068.3L1379.9 1036.6L1380.4 1068.3L1380.9 1058.5L1381.4 1068.3L1381.9 1043.5L1382.4 1068.3L1382.9 1048.8L1383.4 1068.9L1383.9 1061.9L1384.4 1072.5L1384.9 1060.2L1385.4 1076L1385.9 1056.6L1386.4 1077.4L1386.9 1061L1387.4 1074.5L1387.9 1060.5L1388.4 1071.7L1388.9 1040L1389.4 1068.8L1389.9 1054L1390.4 1066L1390.9 1044.8L1391.4 1062.9L1391.9 1042.9L1392.4 1059.7L1392.9 1024.1L1393.4 1056.6L1393.9 1033.1L1394.4 1053.4L1394.9 1033.4L1395.4 1050.2L1395.9 1014.2L1396.4 1049L1396.9 1035L1397.4 1048.8L1397.9 1026.7L1398.4 1048.5L1398.9 1036.3L1399.4 1046.9L1399.9 1020.8L1400.4 1042.7L1400.9 1016.6L1401.4 1038.5L1401.9 1009.7L1402.4 1034.3L1402.9 1014.6L1403.4 1029.9L1403.9 1013.1L1404.4 1024.1L1404.9 999.1L1405.4 1018.3L1405.9 984.1L1406.4 1012.5L1406.9 994.2L1407.4 1006.7L1407.9 998.5L1408.4 1007.3L1408.9 999.3L1409.4 1007.9L1409.9 988L1410.4 1008.5L1410.9 1003.3L1411.4 1009.1L1411.9 1006.7L1412.4 1012.7L1412.9 1010.3L1413.4 1016.9L1413.9 1001.9L1414.4 1021.1L1414.9 1015.3L1415.4 1025.3L1415.9 1012.8L1416.4 1028.6L1416.9 1015.1L1417.4 1031.4L1417.9 1021.9L1418.4 1033L1418.9 1011.8L1419.4 1028.8L1419.9 1013L1420.4 1024.6L1420.9 1007.3L1421.4 1020.4L1421.9 1006.7L1422.4 1016.2L1422.9 1004.5L1423.4 1012L1423.9 996.1L1424.4 1010.5L1424.9 1005.1L1425.4 1014.5L1425.9 1008.7L1426.4 1018.5L1426.9 999.5L1427.4 1022.5L1427.9 1006.5L1428.4 1017.3L1428.9 1004.1L1429.4 1012L1429.9 992.2L1430.4 1006.8L1430.9 991.5L1431.4 1004.7L1431.9 996.1L1432.4 1004.2L1432.9 992.4L1433.4 1003.7L1433.9 986L1434.4 1003.2L1434.9 991.2L1435.4 1002.7L1435.9 974.6L1436.4 1004.3L1436.9 984.6L1437.4 1007L1437.9 995.5L1438.4 1009.7L1438.9 988.3L1439.4 1012.4L1439.9 998.2L1440.4 1006L1440.9 990.2L1441.4 998.8L1441.9 974L1442.4 995.8L1442.9 980.6L1443.4 992.8L1443.9 981.9L1444.4 989.8L1444.9 977.3L1445.4 990L1445.9 978.7L1446.4 993.4L1446.9 985.5L1447.4 996.8L1447.9 994.8L1448.4 1000.2L1448.9 996L1449.4 1001.6L1449.9 988.4L1450.4 998.7L1450.9 987.2L1451.4 995.9L1451.9 982.5L1452.4 993.1L1452.9 966.1L1453.4 990.2L1453.9 967.4L1454.4 986.1L1454.9 968.5L1455.4 979.3L1455.9 948.2L1456.4 972.6L1456.9 956.3L1457.4 965.8L1457.9 942.7L1458.4 963.6L1458.9 946.1L1459.4 961.3L1459.9 942.7L1460.4 959.1L1460.9 953.3L1461.4 965.9L1461.9 959.3L1462.4 977.2L1462.9 978.1L1463.4 987.9L1463.9 986.7L1464.4 995.6L1464.9 984.9L1465.4 1003.3L1465.9 996.2L1466.4 1003.7L1466.9 990.5L1467.4 1000.4L1467.9 979.5L1468.4 997.2L1468.9 986.3L1469.4 996.5L1469.9 990.6L1470.4 1001L1470.9 983.8L1471.4 1005.5L1471.9 1001.8L1472.4 1010L1472.9 998.8L1473.4 1007.5L1473.9 983.4L1474.4 1005L1474.9 993L1475.4 1002.5L1475.9 993.2L1476.4 1003.3L1476.9 984.6L1477.4 1005.8L1477.9 998.8L1478.4 1008.3L1478.9 987.4L1479.4 1010.8L1479.9 995.2L1480.4 1013.3L1480.9 995.1L1481.4 1013.4L1481.9 1004.5L1482.4 1012.2L1482.9 1003.5L1483.4 1011L1483.9 994.7L1484.4 1009.8L1484.9 992.1L1485.4 1008.3L1485.9 999.6L1486.4 1006.5L1486.9 998.2L1487.4 1004.7L1487.9 996.4L1488.4 1002.9L1488.9 990L1489.4 995.7L1489.9 969.8L1490.4 977.7L1490.9 953.9L1491.4 962.8L1491.9 938.9L1492.4 949.4L1492.9 930.7L1493.4 936.1L1493.9 916.8L1494.4 922.8L1494.9 903.9L1495.4 909.4L1495.9 897.1L1496.4 903.5L1496.9 895.5L1497.4 901.3L1497.9 883.7L1498.4 899L1498.9 890.3L1499.4 897.2L1499.9 891L1500.4 896.5L1500.9 884.8L1501.4 895.8L1501.9 878.1L1502.4 895L1502.9 875.6L1503.4 888.5L1503.9 871.9L1504.4 882L1504.9 868.9L1505.4 875.5L1505.9 862.6L1506.4 869.3L1506.9 857.4L1507.4 863.3L1507.9 845.4L1508.4 857.3L1508.9 841.8L1509.4 853.9L1509.9 847.4L1510.4 855.7L1510.9 842.7L1511.4 857.4L1511.9 847.6L1512.4 859.2L1512.9 859.1L1513.4 871.5L1513.9 876.7L1514.4 883.8L1514.9 885.5L1515.4 892.2L1515.9 890.7L1516.4 896.5L1516.9 888L1517.4 900.8L1517.9 883.8L1518.4 895.2L1518.9 876.2L1519.4 889.5L1519.9 871.5L1520.4 883.7L1520.9 865.8L1521.4 877.7L1521.9 864.6L1522.4 871.7L1522.9 854.7L1523.4 869.9L1523.9 859.5L1524.4 868.2L1524.9 846.7L1525.4 866.4L1525.9 851.3L1526.4 860.3L1526.9 828.9L1527.4 852.1L1527.9 827.6L1528.4 843.8L1528.9 832.2L1529.4 837.7L1529.9 820.7L1530.4 835.7L1530.9 814.5L1531.4 833.8L1531.9 825.8L1532.4 833.5L1532.9 825.4L1533.4 836.4L1533.9 832.7L1534.4 839.4L1534.9 828.6L1535.4 836.3L1535.9 815.1L1536.4 827.3L1536.9 807.7L1537.4 818.3L1537.9 810.2L1538.4 815.7L1538.9 804.3L1539.4 813L1539.9 802.6L1540.4 811.3L1540.9 810.5L1541.4 814.4L1541.9 814.2L1542.4 817.5L1542.9 816.4L1543.4 822.2L1543.9 821L1544.4 826.9L1544.9 824L1545.4 831.7L1545.9 816.9L1546.4 830.2L1546.9 810.2L1547.4 828.7L1547.9 819.4L1548.4 828.2L1548.9 820.7L1549.4 832.2L1549.9 822.7L1550.4 836.2L1550.9 828.2L1551.4 840.2L1551.9 832.4L1552.4 845.2L1552.9 843.6L1553.4 850.5L1553.9 834.8L1554.4 855.7L1554.9 853.4L1555.4 861.3L1555.9 860.4L1556.4 867.3L1556.9 864.4L1557.4 873.3L1557.9 880.1L1558.4 890.3L1558.9 894.1L1559.4 907.3L1559.9 909.6L1560.4 916.2L1560.9 903.1L1561.4 916.8L1561.9 910.1L1562.4 917.5L1562.9 888.1L1563.4 899.8L1563.9 874.2L1564.4 882.2L1564.9 863.3L1565.4 868.8L1565.9 854.2L1566.4 859.8L1566.9 839.1L1567.4 850.8L1567.9 836.5L1568.4 845.3L1568.9 848.3L1569.4 857.3L1569.9 861.6L1570.4 869.3L1570.9 874.8L1571.4 881.3L1571.9 871.4L1572.4 879.7L1572.9 870.2L1573.4 875.4L1573.9 861.5L1574.4 873.1L1574.9 869.3L1575.4 874.7L1575.9 858.1L1576.4 876.4L1576.9 855.9L1577.4 872.8L1577.9 859.1L1578.4 868.1L1578.9 846.3L1579.4 862L1579.9 841.7L1580.4 853L1580.9 835L1581.4 844L1581.9 833.6L1582.4 846.4L1582.9 839.9L1583.4 851.1L1583.9 850.6L1584.4 854.9L1584.9 844.6L1585.4 857.1L1585.9 854.6L1586.4 859.4L1586.9 854.4L1587.4 859L1587.9 848L1588.4 853.4L1588.9 845.1L1589.4 847.8L1589.9 836.6L1590.4 840L1590.9 823.9L1591.4 830L1591.9 811.6L1592.4 820L1592.9 797L1593.4 812.5L1593.9 789.3L1594.4 805L1594.9 810L1595.4 816.9L1595.9 822.6L1596.4 828.8L1596.9 826.6L1597.4 838.6L1597.9 840.2L1598.4 847.9L1598.9 844.8L1599.4 855.2L1599.9 844.1L1600.4 858.2L1600.9 856L1601.4 861.3L1601.9 853.8L1602.4 865.7L1602.9 860.1L1603.4 872.9L1603.9 871.3L1604.4 880L1604.9 879.1L1605.4 887.2L1605.9 871.6L1606.4 883.5L1606.9 866.4L1607.4 874.3L1607.9 851L1608.4 866.4L1608.9 853.8L1609.4 864.7L1609.9 855.8L1610.4 863.1L1610.9 845.8L1611.4 859.5L1611.9 845.4L1612.4 855L1612.9 845.6L1613.4 850.5L1613.9 841.8L1614.4 848.6L1614.9 843L1615.4 851.9L1615.9 835.9L1616.4 855.3L1616.9 852.5L1617.4 862L1617.9 862.1L1618.4 875.3L1618.9 857.1L1619.4 888.7L1619.9 878.4L1620.4 892.7L1620.9 866.9L1621.4 887.3L1621.9 875.7L1622.4 881.8L1622.9 875.7L1623.4 883.6L1623.9 882.6L1624.4 889L1624.9 883.4L1625.4 899.2L1625.9 905.6L1626.4 914.2L1626.9 900.9L1627.4 906.7L1627.9 889.1L1628.4 894.7L1628.9 874.1L1629.4 882.7L1629.9 871.8L1630.4 878.3L1630.9 870.2L1631.4 881.7L1631.9 867L1632.4 885L1632.9 874L1633.4 883.7L1633.9 874.3L1634.4 882.3L1634.9 879.2L1635.4 888.8L1635.9 895.9L1636.4 903.2L1636.9 900.7L1637.4 917.5L1637.9 913.6L1638.4 920.8L1638.9 906L1639.4 924.2L1639.9 915.3L1640.4 925.8L1640.9 908.4L1641.4 925.8L1641.9 908.3L1642.4 925.8L1642.9 918.3L1643.4 925.7L1643.9 906.4L1644.4 925L1644.9 898L1645.4 924.4L1645.9 906.6L1646.4 923.7L1646.9 906.2L1647.4 926.2L1647.9 919.1L1648.4 932L1648.9 925.1L1649.4 936.2L1649.9 913.4L1650.4 937.4L1650.9 911.7L1650.5 911.7L1650.5 221.3L1651.5 221.3L1651.5 938.5L1651.4 938.5L1651.9 927.8L1652.4 939.6L1652.9 929.8L1653.4 940.8L1653.9 927.6L1654.4 941.9L1654.9 926L1655.4 947.3L1655.9 942.1L1656.4 957L1656.9 932.1L1657.4 966.7L1657.9 941.5L1658.4 968.7L1658.9 939L1659.4 970.7L1659.9 952.5L1660.4 972.7L1660.9 949.9L1661.4 974.7L1661.9 938.2L1662.4 968.9L1662.9 952.1L1663.4 961.5L1663.9 937.9L1664.4 954.2L1664.9 950.8L1665.4 959.2L1665.9 948.4L1666.4 964.2L1666.9 963.4L1667.4 969.2L1667.9 960.9L1668.4 977.4L1668.9 973.6L1669.4 985.6L1669.9 970.8L1670.4 993.8L1670.9 973.7L1671.4 1002L1671.9 965.4L1672.4 1000.8L1672.9 968.8L1673.4 997.8L1673.9 981.6L1674.4 994.8L1674.9 974.6L1675.4 990.8L1675.9 978.3L1676.4 985.8L1676.9 974.5L1677.4 980.8L1677.9 963.6L1678.4 975.8L1678.9 959.1L1679.4 975.1L1679.9 966.6L1680.4 982.7L1680.9 976.4L1681.4 990.4L1681.9 977.7L1682.4 996.3L1682.9 978.2L1683.4 1001.9L1683.9 986.8L1684.4 1007.5L1684.9 972.9L1685.4 987.5L1685.9 940.2L1686.4 967.5L1686.9 934.5L1687.4 947.5L1687.9 920.3L1688.4 945.2L1688.9 923.5L1689.4 942.8L1689.9 923.1L1690.4 942.3L1690.9 920.8L1691.4 943.4L1691.9 914.1L1692.4 944.6L1692.9 916.9L1693.4 948.5L1693.9 937.5L1694.4 953.7L1694.9 945.3L1695.4 958.9L1695.9 941.6L1696.4 964.1L1696.9 932.4L1697.4 957.8L1697.9 937.1L1698.4 949.1L1698.9 935L1699.4 940L1699.9 924L1700.4 930L1700.9 909.2L1701.4 920L1701.9 890.5L1702.4 910L1702.9 886.9L1703.4 908.6L1703.9 896.9L1704.4 907.2L1704.9 893.6L1705.4 905.8L1705.9 892.7L1706.4 904.4L1706.9 899.5L1707.4 906.8L1707.9 902.6L1708.4 909.9L1708.9 900.1L1709.4 913L1710.6 874.4L1710.9 865.5L1711.2 869.9L1711.6 862.1L1711.9 865.1L1712.2 856.8L1712.6 865.9L1713 855.3L1713.3 860.9L1713.6 861.4L1713.9 871.4L1714.2 870.7L1714.6 882.7L1715 878.4L1715.4 885.1L1715.7 877.9L1716.1 883.9L1716.4 873.4L1716.8 877.5L1717.1 869.4L1717.4 874.8L1717.8 862.3L1718.1 874.6L1718.5 870.4L1718.9 878.8L1719.3 867.5L1719.6 873.1L1720 861.4L1720.4 864.5L1720.7 859.1L1721.1 865.3L1721.5 862.1L1721.9 873.6L1722.2 869.7L1722.6 872L1723 858.9L1723.3 860.8L1723.5 849.1L1723.7 851.3L1723.9 838.9L1724.1 843.6L1724.3 832.2L1724.4 834.3L1724.8 822.3L1725.1 826L1725.4 814.8L1725.8 815.3L1726.1 810.7L1726.5 817.8L1726.9 814.5L1727.2 821.2L1727.6 817.4L1727.9 827.4L1728.2 823.3L1728.6 831.4L1728.9 824.3L1729.3 837.2L1729.6 834.4L1730 850.2L1730.4 847.4L1730.7 859.2L1731.1 854.4L1731.4 864.5L1731.6 855.1L1731.7 857.9L1731.8 845.8L1731.9 845.7L1732.1 834.4L1732.2 837.5L1732.3 828.3L1732.4 830.2L1732.6 817.3L1732.7 820.6L1732.9 809.3L1733.1 808.1L1733.3 797.5L1733.5 798.3L1733.7 787.9L1733.9 792.1L1734.2 781.6L1734.6 784.5L1735 774.5L1735.3 776.2L1735.6 774L1735.8 786.4L1736 785.5L1736.2 795.2L1736.4 797.5L1736.5 805.9L1736.6 804.8L1736.7 814.8L1736.8 814.5L1736.9 825.6L1737 823.9L1737.1 833.4L1737.2 832.9L1737.6 836.2L1737.9 827.7L1738.2 834.9L1738.6 827.8L1738.9 831.8L1739.1 830.3L1739.3 839L1739.4 839.2L1739.6 850.1L1739.8 846.9L1739.9 860.7L1740.1 859.2L1740.2 871.9L1740.4 869.8L1740.6 878.9L1740.8 868.1L1741 869.4L1741.2 858.4L1741.4 860.9L1741.6 848L1741.8 847.2L1742 839L1742.3 839L1742.5 829.3L1742.8 831.8L1743.1 818.7L1743.3 821.4L1743.6 810.1L1743.9 811.3L1744.2 799.5L1744.4 799.4L1744.8 792.6L1745.1 797.4L1745.4 791.5L1745.8 795.2L1746.1 787L1746.5 797L1746.9 793.8L1747.2 801L1747.6 794.2L1748 800.5L1748.3 793.8L1748.5 801.9L1748.7 801.5L1748.9 810.3L1749.1 809.5L1749.3 821.8L1749.6 821.5L1749.8 831.7L1750.1 829.3L1750.5 840.8L1750.9 840L1751.2 840.1L1751.6 833.1L1751.9 836.6L1752.2 826.9L1752.6 827.7L1753 816.8L1753.3 817.6L1753.7 813L1754 817.2L1754.3 807.2L1754.7 813L1755 803.7L1755.3 807.9L1755.7 799.3L1756 803L1756.3 792.7L1756.7 796.8L1756.9 787.8L1757.2 787.7L1757.5 776.9L1757.8 778.6L1758.1 768.9L1758.4 770.8L1758.8 763.3L1759.1 767.9L1759.4 764.1L1759.7 775.3L1760 772.3L1760.4 783.8L1760.7 780.8L1761.1 790.9L1761.5 787.9L1761.9 796.6L1762.2 793.6L1762.6 803.4L1762.9 801.8L1763.3 810.6L1763.7 808.3L1764 813.2L1764.3 802.1L1764.7 803.4L1765 795.6L1765.2 794.2L1765.4 785L1765.6 783.7L1765.7 773.2L1765.9 773.6L1766.1 763.6L1766.4 765.1L1766.7 753.5L1767 757.3L1767.3 746.5L1767.7 756.9L1768 756L1768.3 764.5L1768.7 762.4L1769.1 768.5L1769.4 768.3L1769.8 774.7L1770.1 771.4L1770.4 779.8L1770.8 775.4L1771.1 782.5L1771.5 772.3L1771.9 775.4L1772.2 766L1772.6 772.8L1772.9 763.5L1773.2 769.8L1773.6 763.6L1773.9 762.8L1774.1 756.8L1774.4 757L1774.8 747.3L1775.2 747.3L1775.6 735.9L1775.9 739.8L1776.1 731.2L1776.4 734L1776.4 725.3L1776.4 726.4L1776.4 717.1L1776.4 715.3L1776.4 706.8L1776.4 707.3L1776.4 696.8L1776.3 697.8L1776.3 687.7L1776.6 688.7L1776.9 680.3L1777.2 682.5L1777.5 673.5L1777.8 682.5L1778.2 683.7L1778.5 690.7L1778.8 691.1L1779.2 700.4L1779.4 699.4L1779.7 710.3L1780 711.2L1780.3 721.5L1780.6 719.4L1780.8 729.3L1781.1 728.5L1781.5 737.7L1781.8 733.8L1782.1 741.4L1782.4 740L1782.7 748.9L1783 745.8L1783.3 745.3L1783.7 734.4L1784 734.4L1784.3 724L1784.7 724.1L1785 718.9L1785.2 721.2L1785.5 713.7L1785.8 717.1L1786.2 717.4L1786.5 725.8L1786.8 723.1L1787.2 734.2L1787.5 734.4L1787.8 741.5L1788.2 737.7L1788.5 744.3L1788.8 742.7L1789.2 750.1L1789.5 740.4L1789.8 742.9L1790.2 735.1L1790.5 737.7L1790.8 730.4L1791.2 729.2L1791.5 723.6L1791.8 724L1792.2 713.1L1792.5 714.3L1792.8 709.2L1793.2 711L1793.5 704.7L1793.8 706.7L1794.2 698.7L1794.5 704L1794.8 698.2L1795.2 701.9L1795.5 696.5L1795.8 699.7L1796.2 691.3L1796.5 692.3L1796.8 685.9L1797.2 688L1797.5 680.4L1797.8 682L1798.2 674.4L1798.5 674.7L1798.8 667.8L1799.2 668.8L1799.4 663.5L1799.7 666.9L1800 660.8L1800.3 666.9L1800.7 664.4L1801 671.8L1801.3 668.3L1801.6 671L1801.9 663.1L1802.2 664L1802.5 657.8L1802.8 658.5L1803.1 651.5L1803.4 651.7L1803.7 645.1L1804 643.6L1804.3 636.5L1804.7 635.4L1805 626.6L1805.3 626.2L1805.7 615.8L1806 614.9L1806.2 604.5L1806.4 604.2L1806.7 594.8L1807 591.9L1807.2 584.4L1807.5 581.2L1807.8 573.7L1808.1 572.5L1808.3 562.3L1808.6 561.3L1808.8 552.9L1809.1 551.2L1809.3 542.9L1809.6 541.9L1809.8 533.3L1810 532L1810.2 523.3L1810.3 522.1L1810.5 513.9L1810.7 512.4L1810.9 503.7L1811.1 500.6L1811.3 493.4L1811.4 491.3L1811.6 483.8L1811.7 482.1L1811.9 474L1812 471.5L1812.2 464.7L1812.3 462.3L1812.5 455.5L1812.8 454.6L1813.2 448.6L1813.5 448.2L1813.9 442.7L1814.2 442.1L1814.6 442.4L1814.9 447.1L1815.2 447.3L1815.5 452.2L1815.8 444.2L1816 442.7L1816.2 434.6L1816.5 431.8L1816.8 424.8L1817 422.1L1817.2 415.1L1817.3 413.4L1817.5 405.4L1817.6 403.4L1817.8 397.2L1817.9 395L1818.1 386.8L1818.2 384.9L1818.4 378.8L1818.5 375.7L1818.6 369.3L1818.8 366.8L1818.9 360.3L1819 357.7L1819.1 351.2L1819.2 349L1819.4 341.2L1819.5 338.7L1819.6 331.4L1819.7 328L1819.8 321.9L1819.9 317.9L1820 311.6L1820.2 308.2L1820.3 301L1820.5 298L1820.7 291.3L1820.8 288.1L1821 280.5L1821.2 278.2L1821.5 271.2L1821.8 267.6L1822 261.7L1822.3 260.2L1822.6 254.8L1822.9 254L1823.2 248.9L1823.6 248.1L1823.9 244.1L1824.2 243L1824.6 244.8L1824.9 250.7L1825.2 252.7L1825.6 249.2L1825.9 242.1L1826.2 238.1L1826.6 233.6L1827 232.1L1827.3 227.1L1827.7 225.5L1828 221.2L1828.3 219.1L1828.6 213.8L1828.9 211L1829.2 205.5L1829.5 203.3L1829.8 196.6L1830.1 193.6L1830.4 186.3L1830.7 183.2L1831 176.5L1831.3 174.9L1831.6 170.8L1831.9 169L1832.2 164.4L1832.5 163.5L1832.8 161.3L1833.2 162L1833.5 159.6L1833.8 160.7L1834.2 158.7L1834.5 160.8L1834.8 160L1835.1 162.4L1835.4 161L1835.7 163.8L1836 162.5L1836.4 164.9L1836.7 164.1L1837 163.4L1837.3 159.8L1837.7 160L1838 156.5L1838.3 156.2L1838.7 152.7L1839 152.1L1839.3 149.1L1839.7 148.3L1840 150.8L1840.2 156.3L1840.5 158.6L1840.8 163.7L1841.2 157.7L1841.5 154.6L1841.8 148.3L1842.2 145.3L1842.5 138.9L1842.8 142.4L1843.2 143.7L1843.5 147.7L1843.8 148.3L1844.2 151.9L1844.5 151.6L1844.8 153.8L1845.1 152.8L1845.4 155.2L1845.7 154.8L1846 157.3L1846.3 157.2L1846.7 156L1847 151.9L1847.3 150.6L1847.7 146.2L1848 145L1848.3 140.3L1848.6 144.1L1849 144.1L1849.3 147.7L1849.6 148.2L1849.9 151.2L1850.2 151.7L1850.5 155.5L1850.8 151.1L1851.1 150.4L1851.4 146.6L1851.8 145.4L1852.1 141.8L1852.4 141L1852.7 136.9L1853 136.3L1853.3 132.7L1853.6 133.5L1854 131.6L1854.3 131.9L1854.6 129.7L1854.9 130.8L1855.2 129L1855.5 130L1855.8 127.5L1856.2 131.4L1856.5 131.8L1856.8 136L1857.2 136.2L1857.5 140.2L1857.8 140.6L1858.2 144L1858.5 144.8L1858.8 148.7L1859.1 143L1859.4 140L1859.7 134.2L1860 131.6L1860.3 126.3L1860.6 129.5L1861 129.6L1861.3 132.7L1861.6 133.6L1861.9 136.9L1862.2 136.9L1862.5 139.9L1862.8 135.9L1863.2 135.3L1863.5 131.2L1863.8 129.9L1864.2 126.2L1864.5 125.1L1864.8 120.6L1865.2 119.8L1865.5 116.1L1865.8 114.9L1866.2 110.6L1866.5 116.5L1866.8 119.4L1867.1 125.7L1867.4 128.8L1867.7 135.3L1868 138.2L1868.3 144.2L1868.6 142.3L1869 142.6L1869.3 140.2L1869.6 140.6L1869.9 138.4L1870.2 139L1870.5 136.3L1870.8 136.7L1871.1 131.4L1871.4 128.5L1871.7 123.3L1872 120.5L1872.3 118.1L1872.7 117.8L1873 116.1L1873.3 116.4L1873.7 113.3L1874 113.6L1874.3 111L1874.7 111.4L1874.9 108.7L1875.2 108.4L1875.5 106.1"/>
<path id="avg" stroke="#000" stroke-width="2.08" d="M279.5 118.5L279.8 118.2L280 120.7L280.3 120.5L280.6 122.3L280.9 122.1L281.2 124.6L281.6 123.6L281.9 126.5L282.2 126L282.5 128.6L282.8 127.7L283.1 129.9L283.4 128.9L283.8 131.5L284.1 130.5L284.4 132.7L284.7 132.4L285 134.7L285.3 133.5L285.6 136.2L285.9 135.4L286.2 137.9L286.6 136.6L286.9 139.2L287.2 138.3L287.5 141.1L287.8 140L288.2 142.5L288.5 142L288.8 144.3L289.2 143L289.5 146.1L289.8 142.3L290.1 143L290.4 140.1L290.7 139.4L291 137L291.3 140.2L291.6 141.2L291.9 145.4L292.2 146L292.5 149.7L292.8 147.1L293.1 148.1L293.4 145.6L293.7 146.6L294 144.2L294.3 146L294.6 144.5L294.9 146.1L295.2 145.5L295.5 146.9L295.8 146.9L296.1 150.4L296.4 150.7L296.7 154.1L297 154.2L297.3 153.7L297.7 149L298 148.5L298.3 148.2L298.6 151.1L298.9 151.4L299.2 154.4L299.5 154.3L299.9 155.7L300.2 154L300.6 154.9L300.9 153.4L301.2 154.9L301.6 152.4L301.9 152.7L302.2 150.4L302.6 150.9L302.9 148.7L303.2 150L303.6 149.9L303.9 153.1L304.3 154.3L304.6 157.9L305 158.4L305.3 160.5L305.6 160.2L305.9 162.5L306.2 161.8L306.5 164.4L306.8 161.7L307.2 162.1L307.5 159.3L307.8 161.1L308.2 160.1L308.5 161.7L308.8 160L309.2 162.2L309.5 160.4L309.9 165.4L310.2 166.8L310.6 172.1L310.9 173.9L311.2 178.7L311.6 180L311.9 185.2L312.3 187.6L312.6 192.7L313 194.5L313.2 201.2L313.4 204.4L313.6 211L313.8 214.1L314 221.1L314.2 223.8L314.4 230.9L314.6 234.3L314.8 240.6L315 244.4L315.2 249.5L315.5 250.7L315.8 251.7L316.2 249.2L316.5 251.1L316.8 252.5L317.2 257.7L317.5 259L317.8 263.4L318.1 264.4L318.4 268.9L318.7 269.3L319 273.2L319.3 276L319.6 283L319.9 284.6L320.2 292L320.5 293.9L320.8 301.7L321 304.7L321.2 313.2L321.5 316.8L321.8 323.4L322 325.1L322.2 331.8L322.5 333.5L322.8 338.9L323.1 340.1L323.4 345.9L323.8 346L323.9 353.3L324.1 355.6L324.2 364L324.4 366.6L324.5 373.6L324.6 376.9L324.8 385.7L324.9 387.4L325 397L325.3 396.3L325.6 402.2L325.9 402.5L326.2 407.8L326.5 408.5L326.8 414.4L327.1 414L327.4 419.1L327.7 419L328 423.5L328.3 425.9L328.7 434.2L329 436.3L329.3 444.2L329.6 446.9L329.9 455.6L330.2 457.7L330.6 463.9L330.9 464.7L331.2 471.1L331.5 471.7L331.6 479.9L331.8 481L331.9 489.3L332.1 490.8L332.2 499.1L332.4 501.4L332.5 508.5L332.8 506.4L333.1 510.5L333.4 508.3L333.7 512.3L334 510.3L334.1 518.4L334.2 519.7L334.3 528.5L334.4 528.8L334.5 537.2L334.6 539L334.7 547.8L334.8 549.1L334.9 556.6L335 557.4L335.2 566.3L335.3 568.3L335.5 578L335.6 578.7L335.8 587L335.9 588.4L336.1 597.4L336.2 598.6L336.6 602.9L336.9 602.7L337.2 608.3L337.5 605.5L337.7 613.5L337.8 615.3L338 623L338.2 624.3L338.3 633.1L338.5 632.8L338.7 642.8L338.8 643.4L339 654.7L339.2 654.7L339.3 664.1L339.5 664.7L339.8 673.8L340.1 674.8L340.4 685.7L340.7 685.9L341 693.7L341.3 694.5L341.6 704.3L341.9 704.1L342.2 712.6L342.5 713.9L342.8 720.1L343.1 714.7L343.4 722L343.8 716.9L343.9 727.7L344.1 726.2L344.3 738.5L344.5 736.3L344.8 746.7L345.1 747L345.4 756.6L345.8 754.3L346.1 763.4L346.4 758.2L346.7 767.5L347 763.9L347.3 771.2L347.6 770L347.9 777.2L348.2 770.9L348.5 780.1L348.8 777.5L349.1 787.5L349.4 784.7L349.7 791.3L350 789.3L350.3 799.1L350.7 795.5L351 802.3L351.3 797.6L351.7 806.8L352 806.1L352.3 811.2L352.7 806.8L353 818.5L353.3 811.8L353.7 821.7L354 818.5L354.1 828.4L354.2 828.2L354.5 836.9L354.8 831.1L355.2 840.3L355.5 833.6L355.8 842.3L356.2 839.5L356.5 849.7L356.8 849.4L357.2 860.7L357.5 855.6L357.8 864.5L358.2 861.8L358.5 870.1L358.8 865.2L359.2 877.1L359.5 872.6L359.8 879.8L360.2 876.5L360.5 882.6L360.8 879.5L361.2 883.6L361.5 873.1L361.8 876.3L362.2 865L362.5 869.8L362.8 861.4L363.1 865.8L363.4 861.1L363.7 864.4L364 859.1L364.4 864L364.7 856.3L365 866.1L365.2 864L365.5 877L365.8 875L366.2 882L366.5 878L366.8 886.1L367.2 884.3L367.5 893.7L367.8 880L368.2 883.2L368.5 873.3L368.8 877.5L369.2 866L369.5 873.7L369.8 865.7L370.2 871.4L370.5 863L370.8 869.2L371.2 865.5L371.5 873.9L371.8 871.3L372.2 882.1L372.5 874.5L372.8 883.4L373.2 871.8L373.5 878.7L373.8 871L374.2 876.2L374.5 871.5L374.8 882.2L375.2 873.1L375.5 883.6L375.8 877.4L376.1 885L376.5 875.3L376.8 879.1L377.1 869.9L377.4 875.7L377.7 868.2L378 873.8L378.3 868.7L378.7 880.2L379 877.2L379.3 886.5L379.7 881.9L380 892.5L380.3 890.8L380.6 903.5L380.8 901.9L381.2 904.7L381.5 897.5L381.8 901.5L382.2 892.4L382.5 899.8L382.8 894.1L383.2 904.8L383.5 901.8L383.8 910.6L384.2 908.2L384.5 915.1L384.8 909.1L385.2 919.5L385.5 914.8L385.8 924.1L386.2 911.5L386.5 916.3L386.8 905.4L387.2 909.6L387.5 894.9L387.8 903.8L388.1 891L388.4 897.7L388.7 891.6L389 900.6L389.3 895.7L389.7 910.2L390 905.9L390.3 916.6L390.7 916.5L391 929.9L391.3 926.3L391.7 932L392 919L392.3 926.3L392.7 914.9L393 919.6L393.3 912.5L393.7 919.8L394 913.5L394.3 922.3L394.7 918.1L395 926.7L395.3 919.6L395.7 932.1L396 926.2L396.3 938.3L396.7 928.9L397 934.6L397.3 926.7L397.7 928.9L398 921.3L398.3 927.7L398.5 916.3L398.6 918L398.8 902.4L398.9 906.8L399.1 891.5L399.2 894.4L399.4 884.5L399.5 887.6L399.7 873.1L400 879.4L400.2 872.2L400.5 877L400.8 870L401 883.6L401.2 879.3L401.3 893.8L401.5 890L401.7 904L402 892.7L402.3 896.5L402.7 885.8L403 889.5L403.3 879.8L403.7 893.8L404 886.3L404.3 897.6L404.7 892.9L405 905L405.3 899.8L405.7 907.2L406 905.7L406.3 912.3L406.7 909.4L407 911.2L407.3 901L407.7 902.4L408 891.4L408.3 895.2L408.7 887.5L409 897.3L409.3 892.9L409.7 904.7L410 897.5L410.3 900L410.7 888.3L411 894L411.3 881.3L411.7 883.6L412 883.3L412.3 894L412.7 887.4L413 900.3L413.3 887.6L413.7 895.8L414 884.7L414.3 887L414.7 878.2L415 883L415.3 873.2L415.7 879.5L416 872.5L416.3 878.6L416.5 876L416.8 889L417 884.8L417.2 898.7L417.4 895.8L417.6 909.2L417.8 907.5L418 919.3L418.3 910.1L418.7 919L419 909.2L419.3 914.4L419.7 907.8L420 916.1L420.3 899.9L420.7 903.8L421 891.7L421.3 894.7L421.7 883L422 887.5L422.3 877.8L422.7 885.1L423 873.9L423.3 879.6L423.7 876.4L424 886.2L424.3 882.1L424.7 894.4L425 886.2L425.3 891.4L425.6 881.9L425.9 887.6L426.2 876.5L426.6 884.1L426.9 872.2L427.2 877.5L427.5 869.1L427.8 877L428.2 874L428.5 887.3L428.8 880.1L429.2 891.3L429.5 888.5L429.8 894.3L430.1 889.6L430.4 899.8L430.7 893.1L431 903.2L431.3 898.6L431.7 904.6L432 893.7L432.3 894.9L432.7 885.9L433 890.9L433.3 882.9L433.7 894.1L434 886.3L434.3 893.4L434.7 888.7L435 897.1L435.3 887L435.6 893.2L435.9 884L436.2 887.3L436.6 875.6L436.9 881.6L437.2 870.4L437.5 878.6L437.8 873.1L438.2 881.9L438.5 880.8L438.8 890.9L439.2 885.4L439.5 892L439.8 883.6L440.1 890.6L440.4 882.2L440.7 885.7L441 877.1L441.4 885.2L441.7 877L442 886.4L442.3 880L442.7 890.7L443 886.7L443.3 898.4L443.6 886.4L443.8 890.2L444 876L444.3 878.9L444.5 865.8L444.8 870.3L445 855.5L445.3 862.4L445.7 858.3L446 865.4L446.3 860.3L446.7 865.2L447 862.9L447.3 875.8L447.6 872L447.9 879.6L448.2 878.5L448.5 888.5L448.9 886.1L449.2 895.4L449.5 890.2L449.8 899.2L450.1 892L450.4 902.7L450.7 896.5L451 904.3L451.4 899.8L451.7 910L452 901.6L452.3 906.1L452.7 899.2L453 903L453.3 894.3L453.5 898.9L453.6 884.7L453.8 888L453.9 876.3L454.1 878.1L454.2 866.4L454.4 870L454.5 859.7L454.7 858.7L455 856.9L455.2 870.6L455.5 868.4L455.8 880.6L456.1 877.8L456.4 887.3L456.7 884.5L456.9 897.8L457.2 896.9L457.5 911.1L457.8 899.4L458.2 903.2L458.5 893.3L458.8 899.5L459.2 887.4L459.5 889.7L459.8 880L460.2 881.6L460.5 870L460.8 872.1L461.2 861L461.5 867.4L461.8 855.2L462.2 862.3L462.5 850.5L462.8 861.8L463.2 858.9L463.5 872.5L463.8 868.9L464.2 877.4L464.5 868.3L464.8 873.7L465.1 864.2L465.4 868.9L465.7 860L466 861.4L466.3 852.2L466.6 858.3L466.9 851.6L467.2 855.6L467.5 847.9L467.8 861.6L468.2 856.2L468.5 872.2L468.8 869.5L469.2 879.3L469.5 877.2L469.8 891.4L470.1 885.7L470.4 901.8L470.7 897L471 908.4L471.4 907.2L471.7 917.5L472 907L472.3 913.1L472.6 902.4L472.9 908L473.2 901.6L473.5 906.6L473.9 893.7L474.2 900L474.5 888.2L474.8 890.3L475.1 876L475.4 879.6L475.7 866.3L476 870L476.3 856.5L476.6 868.7L476.8 866.2L477 881.3L477.3 878L477.5 888.9L477.8 887.7L478 900.2L478.3 889.7L478.6 889.1L478.9 876.7L479.2 882L479.5 879.3L479.8 891.8L480.1 888.5L480.4 901.1L480.7 900.2L481 913.4L481.3 906.7L481.7 914.8L482 904.8L482.3 911.5L482.7 901.3L483 905.6L483.3 894.4L483.7 900.9L484 887.9L484.3 890.2L484.7 879.3L485 878.7L485.3 876L485.7 882.8L486 875.7L486.3 885.2L486.7 881.6L487 880.8L487.3 868.8L487.7 872.8L488 859.2L488.3 863.4L488.7 853L489 858.6L489.3 852.5L489.7 856.1L490 846.6L490.3 855.7L490.7 853.4L491 860L491.3 854.3L491.7 863.1L492 859.1L492.3 863.2L492.6 856.4L492.9 860L493.2 850L493.5 855.1L493.9 848.3L494.2 853.1L494.5 844.4L494.8 853.9L495.2 846.5L495.5 857.6L495.8 852.4L496.1 856.2L496.5 848L496.8 851L497.1 841.4L497.4 847L497.7 839L498 842.9L498.3 837.6L498.6 847.5L498.9 843L499.2 851.8L499.5 839.3L499.8 843L500.2 832.8L500.5 833.7L500.8 823.5L501.2 828.3L501.5 821.2L501.8 828.8L502.2 819.7L502.5 823.6L502.7 825.2L503 836.6L503.2 832.6L503.5 846.1L503.7 842.9L503.9 855.4L504.2 855.1L504.5 860L504.8 854L505.1 861.4L505.4 854.2L505.7 862.4L506 857.5L506.4 864.4L506.7 855.4L507 864.6L507.3 859.6L507.7 867.5L508 861.7L508.3 868.8L508.7 862.4L509 869.7L509.3 865.1L509.6 874L509.9 866.3L510.2 873.7L510.5 867.1L510.8 876.1L511.2 865.8L511.5 866.1L511.8 854.4L512.2 859.4L512.5 845.8L512.8 848.6L513.2 838L513.5 838.3L513.8 828.5L514.2 829L514.3 817.9L514.4 821.2L514.5 809.7L514.6 809.1L514.8 800.2L514.9 800.2L515 790.3L515.3 799L515.7 793.4L516 799.6L516.3 792.9L516.7 802.4L517 794L517.3 799.6L517.7 793.7L518 797.2L518.3 788.6L518.7 794.9L519 786L519.3 788.1L519.7 777.7L520 779.9L520.3 776.2L520.7 779.2L521 775.5L521.3 778.6L521.7 780L522 787.9L522.3 788.9L522.7 797.7L523 795.9L523.3 806.4L523.6 802.1L524 808L524.3 804.2L524.6 810.6L524.9 806.2L525.2 813.3L525.5 807.7L525.8 813.4L526.2 803.5L526.5 804.9L526.8 793.7L527.2 795.9L527.5 787.9L527.7 796.4L527.8 796.3L528 806.7L528.2 808.4L528.3 819.4L528.7 810.2L529 811.2L529.3 803.4L529.7 806.4L530 798.9L530.3 805.9L530.7 796L531 801.9L531.3 797.4L531.7 802.1L532 790.1L532.3 791.5L532.7 782.1L533 784.9L533.3 774.2L533.7 776.3L534 770.1L534.3 773.6L534.2 773.6L534.2 734.2L534.8 734.2L534.8 763.9L534.7 763.9L535 768.8L535.3 763.9L535.7 771.1L536 768.2L536.3 776.3L536.7 772.6L537 782.8L537.3 778.8L537.7 788.3L538 786.3L538.3 795.1L538.7 786.3L539 792L539.3 783.9L539.7 786.7L539.9 786.8L540.1 797.3L540.3 794.2L540.5 806.9L540.7 807L540.9 817.4L541.1 815.2L541.3 829.5L541.7 819.6L542 819.4L542.3 812.4L542.7 812.1L543 804.2L543.3 808.9L543.7 800L544 807.4L544.3 799.1L544.7 804.8L545 797.9L545.3 809.8L545.7 803.7L546 815.4L546.3 809L546.7 818.7L547 819.9L547.3 830.1L547.7 829L548 841.4L548.3 840.9L548.6 851.4L549 848.1L549.3 859L549.6 855.5L549.9 869.1L550.2 866.3L550.5 875.8L550.8 874.2L551.2 880.4L551.5 868.7L551.8 876.3L552.2 866.3L552.5 873.6L552.8 865.9L553.2 874.7L553.5 869.8L553.8 879.6L554.2 873L554.5 881.5L554.8 871.5L555.2 876.1L555.5 869.2L555.8 872.6L556.1 866.8L556.5 879.1L556.8 871.2L557.1 881.1L557.4 878L557.1 878L557.1 741.7L557.7 741.7L557.7 884.7L557.7 884.7L558 879.5L558.2 893.5L558.3 892.7L558.5 904.1L558.7 898.8L558.8 912.8L559 911.6L559.2 921L559.5 910.5L559.8 914.2L560.2 903.6L560.5 909.9L560.8 896.7L561.1 909.7L561.5 906.9L561.8 915.8L562.1 911.4L562.4 925.3L562.7 920.7L563 934.4L563.3 929L563.5 932.6L563.6 919.3L563.8 920.2L563.9 911.3L564.1 911.7L564.2 900.2L564.4 902L564.5 889.9L564.7 890.6L564.8 881L565 880.5L565.3 875.9L565.6 888.6L565.9 881.2L566.2 891L566.6 886.1L566.9 898.7L567.2 893.2L567.5 904.2L567.8 899.9L568.1 908.5L568.4 904.5L568.8 915.5L569.1 910.3L569.4 920.8L569.7 917L570 929.9L570.3 923.3L570.6 931.7L570.9 921.6L571.2 930.8L571.6 922.6L571.9 930.7L572.2 923.5L572.5 931.9L572.8 925.7L573.1 935.1L573.4 930.1L573.8 940.3L574.1 931.2L574.4 943.5L574.7 934.4L575 940L576.7 939L577.2 954.4L577.7 929L578.2 953.9L578.7 926.5L579.2 937.8L579.7 927.1L580.2 932.5L580.7 921L581.2 927.9L581.7 919.7L582.2 937.2L582.7 933L583.2 940.7L583.7 932.8L584.2 946.1L584.7 936.7L585.2 952.7L585.7 944.3L586.2 955.2L586.7 949.3L587.2 955.6L587.7 952.2L588.2 957.5L588.7 955L589.2 962.5L589.7 956.3L590.2 971.5L590.7 958.3L591.2 969.1L591.7 960.2L592.2 967.9L592.7 957L593.2 971.9L593.7 961.7L594.2 972.8L594.7 963.2L595.2 973.5L595.7 959.4L596.2 972.9L596.7 964.4L597.2 975.1L597.7 963.8L598.2 970.3L598.7 960.2L599.2 970L599.7 963L600.2 971.5L600.7 959.1L601.2 971.6L601.7 951L602.2 962.7L602.7 946L603.2 954.7L603.7 938.5L604.2 954.3L604.7 942.1L605.2 952.5L605.7 944.1L606.2 960.3L606.7 945L607.2 953.2L607.7 944.6L608.2 950L608.7 942.4L609.2 953.3L609.7 939.4L610.2 945.9L610.7 935.6L611.2 949.3L611.7 938.6L612.2 947.2L612.7 937.9L613.2 946.4L613.7 939.2L614.2 944.5L614.7 934.4L615.2 949.8L615.7 939.9L616.2 945.6L616.7 940L617.2 952L617.7 935.6L618.2 950.5L618.7 938.5L619.2 946.2L619.7 935.9L620.2 945.5L620.7 938L621.2 950.4L621.7 937.9L622.2 948.4L622.7 942.3L623.2 948.1L623.7 940L624.2 949.6L624.7 937.6L625.2 945.4L625.7 930.2L626.2 943.7L626.7 933.6L627.2 943.7L627.7 929.5L628.2 946.7L628.7 936.2L629.2 946.5L629.7 938.6L630.2 945.2L630.7 946L631.2 953.3L631.7 955.4L632.2 962.7L632.7 959.5L633.2 977.5L633.7 970.5L634.2 976.8L634.7 965.8L635.2 981.8L635.7 971.8L636.2 987.6L636.7 967.6L637.2 977.3L637.7 963.3L638.2 972.5L638.7 959.4L639.2 971.1L639.7 960.9L640.2 967.1L640.7 957.2L641.2 970.8L641.7 956L642.2 962L642.7 951.7L643.2 958.7L643.7 949.4L644.2 955L644.7 939L645.2 955.2L645.7 944.6L646.2 951.1L646.7 942.2L647.2 956.3L647.7 946L648.2 957.7L648.7 945.6L649.2 967.8L649.7 954L650.2 966.5L650.7 961.3L651.2 967.5L651.7 951.6L652.2 968.5L652.7 949.4L653.2 977L653.7 950.4L654.2 971.4L654.7 955.7L655.2 963.7L655.2 963.7L655.2 788.3L655.8 788.3L655.8 958L655.7 958L656.2 967.6L656.7 956.8L657.2 969.3L657.7 950.1L658.2 968.3L658.7 954.7L659.2 965.7L659.7 960L660.2 971.1L660.7 957.7L661.2 974.8L661.7 963.9L662.2 973.7L662.7 968.2L663.2 976.1L663.7 973.2L664.2 984.1L664.7 976.5L665.2 983.2L665.7 979.1L666.2 985.8L666.7 980.1L667.2 995.7L667.7 971.2L668.2 989.3L668.7 978.2L669.2 989.9L669.7 978.3L670.2 999.5L670.7 982L671.2 990.2L671.7 977L672.2 1003.9L672.7 985.3L673.2 1002.1L673.7 984.3L674.2 993.4L674.7 986.8L675.2 993.7L675.7 987.2L676.2 992.6L676.7 979L677.2 999.4L677.7 984.2L678.2 992.4L678.7 985.4L679.2 991.4L679.7 983.5L680.2 993.8L680.7 979.3L681.2 991L681.7 981.4L682.2 990.7L682.7 979.4L683.2 991.2L683.7 977.8L684.2 986.9L684.7 980.3L685.2 986.4L685.7 977.4L686.2 987.1L686.7 972.5L687.2 982.7L687.7 968.3L688.2 982.8L688.7 973.6L689.2 983.6L689.7 965.2L690.2 981.6L690.7 971.8L691.2 980.2L691.7 965.9L692.2 975.9L692.7 966.2L693.2 977.7L693.7 974L694.2 986.8L694.7 973.6L695.2 980.3L695.7 967.9L696.2 983.6L696.7 974.6L697.2 979.8L697.7 967.7L698.2 989.2L698.7 957.2L699.2 970.6L699.7 954.1L700.2 964.5L700.7 943.4L701.2 958.2L701.7 949.5L702.2 960.7L702.7 951.8L703.2 966L703.7 953.6L704.2 964.8L704.7 958.6L705.2 964.6L705.7 961.7L706.2 967.5L706.7 955.5L707.2 975.1L707.7 963.1L708.2 982.6L708.7 967.2L709.2 973.9L709.7 964.7L710.2 977.7L710.7 952.1L711.2 967.6L711.7 957.2L712.2 966.3L712.7 942L713.2 961.3L713.7 943.8L714.2 956.9L714.7 939.8L715.2 963.7L715.7 928.9L716.2 958.6L716.7 929.1L717.2 949.3L717.7 924.1L718.2 940.3L718.7 920L719.2 928.5L719.7 919.3L720.2 930.3L720.7 925.5L721.2 932L721.7 920.7L722.2 932.5L722.7 924.8L723.2 930.5L723.7 919.6L724.2 926.5L724.7 910.1L725.2 917.6L725.7 899.5L726.2 909.1L726.7 896.7L727.2 902.8L727.7 888.5L728.2 900.5L728.7 885.8L729.2 897.7L729.7 886.2L730.2 895.2L730.7 887.5L731.2 897.2L731.7 883.4L732.2 899.6L732.7 887.6L733.2 894.8L733.7 886.5L734.2 895.5L734.7 885L735.2 892.2L735.7 881.1L736.2 889.3L736.7 877L737.2 886.7L737.7 870.4L738.2 878.7L738.7 867.5L739.2 877.2L739.7 872.1L740.2 878.8L740.7 879.6L741.2 890.2L741.7 891.6L742.2 901.1L742.7 902.6L743.2 915.8L743.7 910.6L744.2 920L744.7 915.1L745.2 924.5L745.7 912.7L746.2 923.7L746.7 915.9L747.2 924.3L747.7 913.8L748.2 924.6L748.7 913.7L749.2 922.1L749.7 918L750.2 923.9L750.7 920.2L751.2 928.5L751.7 921.9L752.2 931.1L752.7 922.4L753.2 932.8L753.7 913.5L754.2 923.7L754.7 900.7L755.2 913.7L755.7 893.9L756.2 899.4L756.7 878L757.2 892.5L757.7 869.1L758.2 880.5L758.7 854.3L759.2 863.7L759.7 850.5L760.2 857L760.7 852L761.2 861.1L761.7 859.6L762.2 868.1L762.7 866.8L763.2 873.9L763.7 871.4L764.2 881.3L764.7 869.6L765.2 876.5L765.7 868.7L766.2 874.7L766.7 873.9L767.2 881.7L767.7 877.8L768.2 889.4L768.7 884L769.2 898.2L769.7 877.5L770.2 892.3L770.7 876.7L771.2 882.6L771.7 869.4L772.2 880.6L772.7 866.4L773.2 872.5L773.7 872.2L774.2 881.1L774.7 879.4L775.2 891.4L775.7 892.2L776.2 900.2L776.7 897.9L777.2 908.6L777.7 906L778.2 915.5L778.7 907.8L779.2 918.4L779.7 911.4L780.2 919.8L780.7 909.5L781.2 919.9L781.7 910.5L782.2 917L782.7 906.5L783.2 917.8L783.7 906.5L784.2 916.6L784.7 908.6L785.2 917.9L785.7 911.5L786.2 917.5L786.7 911.2L787.2 917.9L787.7 911.2L788.2 916.8L788.7 911.7L789.2 918L789.7 910.7L790.2 918.3L790.7 909.7L791.2 919.8L791.7 908.5L792.2 914.8L792.7 898.3L793.2 912.8L793.7 892L794.2 908.8L794.7 886.2L795.2 892.7L795.7 873L796.2 881.3L796.7 868.7L797.2 881.4L797.7 872.9L798.2 878.4L798 878.4L798 715L798.6 715L798.6 869.2L798.7 869.2L799.2 886.5L799.7 866.6L800.2 877.7L800.7 865.5L801.2 879.4L801.7 858.9L802.2 866.1L802.7 842.9L803.2 850.3L803.7 838.3L804.2 845.6L804.7 832.6L805.2 840.4L805.7 837L806.2 847.4L806.7 844.1L807.2 855.4L807.7 851.7L808.2 862.2L808.7 856.5L809.2 874.4L809.7 857.3L810.2 869.4L810.7 864.5L811.2 872.7L811.7 863.3L812.2 870.1L812.7 859.5L813.2 867.7L813.7 860.2L814.2 868.6L814.7 858.8L815.2 866.9L815.7 857L816.2 864.2L816.7 865.5L817.2 871.5L817.7 873.9L818.2 882.7L818.7 881L819.2 893.1L819.7 887.3L820.2 897.4L820.7 897.1L821.2 907.2L821.7 894.7L822.2 906.6L822.7 891.9L823.2 900.6L823.7 885.8L824.2 896.1L824.7 879.5L825.2 889.6L825.7 884.9L826.2 892.4L826.7 890.4L827.2 899.8L827.7 894.7L828.2 909.3L828.7 898.7L829.2 905.1L829.7 893.8L830.2 900.8L830.7 888.9L831.2 895.1L831.7 884.2L832.2 891.8L832.7 896.3L833.2 903L833.7 903.9L834.2 918.3L834.7 915L835.2 923.4L835.7 924.3L836.2 933.6L836.7 932.1L837.2 940.7L837.7 927.3L838.2 938.3L838.7 930.1L839.2 936L839.7 929.6L840.2 936.4L840.7 929.6L841.2 938L841.7 929.9L842.2 935.2L842.7 928.3L843.2 939.1L843.7 936.8L844.2 944.2L844.7 933.8L845.2 939.8L845.7 919.4L846.2 935.5L846.7 913.1L847.2 925.4L847.7 909L848.2 919.3L848.7 902.2L849.2 911.1L849.7 897.6L850.2 908.2L850.7 902.3L851.2 909L851.7 903.5L852.2 917.5L852.7 914.1L853.2 923.3L853.7 917.8L854.2 930.6L854.7 924.2L855.2 937.9L855.7 930.4L856.2 947.3L856.7 936.2L857.2 946L857.7 936.4L858.2 946.7L858.7 934.9L859.2 942.2L859.7 930.2L860.2 938.6L860.7 926.4L861.2 937.3L861.7 929.5L862.2 935.4L862.7 927.9L863.2 935.7L863.7 925L864.2 933.6L864.7 925.8L865.2 936.5L865.7 931.4L866.2 946.4L866.7 942.9L867.2 951.1L867.7 948.6L868.2 957.5L868.7 949.3L869.2 968.3L869.7 956.5L870.2 965.8L870.7 959.1L871.2 972.4L871.7 957.1L872.2 973L872.2 973L872.2 820L872.2 820L872.2 961.5L872.7 961.5L873.2 977.9L873.7 966.6L874.2 989.7L874.7 966L875.2 977.2L875.7 963.1L876.2 974.7L876.7 953.4L877.2 967.5L877.7 956.9L878.2 964.4L878.7 954.7L879.2 967L879.7 956L880.2 965.1L880.7 957.6L881.2 966.6L881.7 961.1L882.2 969.7L882.7 963.5L883.2 970.3L883.7 963.9L884.2 971.2L884.7 962.8L885.2 968.8L885.7 954.8L886 954.8L886 745L886 745L886 973L886.2 973L886.7 955.6L887.2 964L887.7 954.3L888.2 961.3L888.7 952.1L889.2 965.2L889.7 949.3L890.2 958.4L890.7 947.9L891.2 965.2L891.7 944L892.2 964.2L892.7 944.7L893.2 962.3L893.7 953.8L894.2 961.7L894.7 956.7L895.2 962.2L895.7 950.9L896.2 960.9L896.7 945.9L897.2 958.3L897.7 949.7L898.2 956.2L898.7 945.9L899.2 955.3L899.7 946.5L900.2 961.5L900.7 947L901.2 960.2L901.7 954.7L902.2 967.5L902.7 961.1L903.2 970.7L903.7 958.2L904.2 972.5L904.7 973.8L905.2 981.8L905.7 975L906.2 980.2L906.7 971L907.2 978.9L907.7 971.4L908.2 986.8L908.7 967L909.2 978.1L909.7 970.8L910.2 976.5L910.7 964L911.2 976.3L911.7 971.2L912.2 980.3L912.7 967.3L913.2 979L913.7 972.4L914.2 977.9L914.7 971.3L915.2 982.2L915.7 974.4L916.2 980.2L916.7 975.4L917.2 986.8L917.7 977.3L918.2 985.2L918.7 972.3L919.2 986.3L919.7 972.2L920.2 982.7L920.7 971.3L921.2 983.5L921.7 953.1L922.2 989L922.7 951.7L923.2 981.7L923.7 949.2L924.2 970.1L924.7 964.6L925.2 975.5L925.7 966L926.2 974.5L926.7 969.9L927.2 975.7L927.7 972.9L928.2 977.8L928.7 974.8L929.2 980.5L929.7 975.1L930.2 989L930.7 979L931.2 988.2L931.7 981.2L932.2 990.8L932.7 978.2L933.2 991L933.7 982.2L934.2 990L934.7 984.7L935.2 991.5L935.7 982.6L936.2 993L936.7 986.8L937.2 993.3L937.7 985.7L938.2 994.7L938.7 988.1L939.2 999L939.7 987.2L940.2 994.6L940.7 986.7L941.2 995.9L941.7 988.3L942.2 997.9L942.7 991.9L943.2 1002.3L943.7 990.6L944.2 1004.4L944.7 992.1L945.2 1007.7L945.7 1000.4L946.2 1006.1L946.7 1003L947.2 1008.8L947.7 1004.4L948.2 1010.8L948.7 1000.2L949.2 1012.2L949.7 1002.7L950.2 1016.3L950.7 1008.7L951.2 1019.4L951.7 1006.6L952.2 1018.1L952.7 1007.8L953.2 1013.7L953.7 1004.1L954.2 1011.7L954.7 1001.5L955.2 1012.6L955.7 999.6L956.2 1016.9L956.7 1010.3L957.2 1018.4L957.7 1014.3L958.2 1021.2L958.7 1013.7L959.2 1023L959.7 1013L960.2 1021.6L960.7 1008.5L961.2 1020.4L961.7 1003.1L962.2 1011.1L962.7 996.3L963.2 1007.9L963.7 1001.9L964.2 1012.1L964.7 1004.6L965.2 1017.1L965.7 1009.6L966.2 1030.9L966.7 1014.5L967.2 1032.3L967.7 1013.2L968.2 1040.9L968.7 1018L969.2 1029.2L969.7 1018.6L970.2 1031.8L970.7 1025.3L971.2 1038.5L971.7 1027.4L972.2 1037.1L972.7 1021.1L973.2 1032.1L973.7 1026.7L974.2 1033.4L974.7 1017.4L975.2 1035.8L975.7 1022.4L976.2 1036.2L976.7 1024.8L977.2 1032.9L977.7 1017.4L978.2 1031.6L978.7 1027.2L979.2 1041.4L979.7 1025.4L980.2 1034.8L980.7 1028.5L981.2 1038.2L981.7 1021.1L982.2 1036.7L982.7 1028.4L983.2 1036.4L983.7 1027.6L984.2 1038.9L984.7 1034.9L985.2 1040.5L985.7 1031.7L986.2 1042.9L986.7 1035.2L987.2 1045.1L987.7 1037.5L988.2 1047.9L988.7 1031.2L989.2 1045.7L989.7 1036.6L990.2 1044.4L990.7 1035.2L991.2 1047.8L991.7 1030.8L992.2 1040.1L992.7 1027.4L993.2 1038.7L993.7 1031.5L994.2 1043.2L994.7 1028.6L995.2 1040L995.7 1032.1L996.2 1039.2L996.7 1029.8L997.2 1038.2L997.7 1027.3L998.2 1040.1L998.7 1032.9L999.2 1038.3L999.7 1028.8L1000.2 1046.4L1000.7 1035.3L1001.2 1047.7L1001.7 1025L1002.2 1042.7L1002.7 1034.3L1003.2 1042.7L1003.7 1035.8L1004.2 1055.1L1004.7 1030.3L1005.2 1044.9L1005.7 1032.1L1006.2 1047.4L1006.7 1027L1007.2 1048.9L1007.7 1031.9L1008.2 1045.1L1008.7 1026.4L1009.2 1043.9L1009.7 1024.8L1010.2 1035.7L1010.7 1019.3L1011.2 1040.8L1011.7 1030L1012.2 1036.6L1012.7 1029.2L1013.2 1036.5L1013.7 1028.8L1014.2 1039.5L1014.7 1031L1015.2 1039.7L1015.7 1034.8L1016.2 1045.2L1016.7 1030.8L1017.2 1048.2L1017.7 1034.5L1018.2 1041.1L1018.7 1034.8L1019.2 1041.7L1019.7 1025.1L1020.2 1043.2L1020.7 1035.1L1021.2 1043.8L1021.7 1033.3L1022.2 1052L1022.7 1029.5L1023.2 1050.9L1023.7 1030.5L1024.2 1050.8L1024.7 1032.6L1025.2 1046.2L1025.7 1028.8L1026.2 1045.1L1026.7 1033.4L1027.2 1040.9L1027.7 1031.5L1028.2 1041.3L1028.7 1028.6L1029.2 1039.8L1029.7 1031.1L1030.2 1047L1030.7 1032.5L1031.2 1041.9L1031.7 1035.7L1032.2 1042.2L1032.7 1035.3L1033.2 1043.9L1033.7 1037.5L1034.2 1044.8L1034.7 1035.3L1035.2 1048.9L1035.7 1039.7L1036.2 1046.2L1036.7 1040.6L1037.2 1048L1037.7 1038.7L1038.2 1056.5L1038.7 1043.2L1039.2 1057.7L1039.7 1046L1040.2 1056.1L1040.7 1041.5L1041.2 1056.9L1041.7 1049.3L1042.2 1055.9L1042.7 1045.2L1043.2 1065.3L1043.7 1048.2L1044.2 1065.1L1044.7 1054.4L1045.2 1063.6L1045.7 1053.2L1046.2 1063L1046.7 1058.3L1047.2 1063.4L1047.7 1056.2L1048.2 1064.5L1048.7 1048.4L1049.2 1064.1L1049.7 1051.6L1050.2 1061L1050.7 1048.9L1051.2 1059.4L1051.7 1044.5L1052.2 1056.2L1052.7 1042.8L1053.2 1053.9L1053.7 1042.7L1054.2 1053.7L1054.7 1043.3L1055.2 1052.2L1055.7 1043.8L1056.2 1051.6L1056.7 1041.8L1057.2 1053.9L1057.7 1044.4L1058.2 1054.3L1058.7 1045.8L1059.2 1054L1059.7 1038.8L1060.2 1063.5L1060.7 1052L1061.2 1061.3L1061.7 1053.8L1062.2 1063L1062.7 1057.4L1063.2 1069.5L1063.7 1057.9L1064.2 1073.4L1064.7 1051.1L1065.2 1074.9L1065.7 1049L1066.2 1070.2L1066.7 1052.8L1067.2 1063.9L1067.7 1053.6L1068.2 1065.2L1068.7 1045.2L1069.2 1059.8L1069.7 1051.5L1070.2 1065.7L1070.7 1048.5L1071.2 1060.8L1071.7 1054.5L1072.2 1061.1L1072.7 1044.5L1073.2 1060.4L1073.7 1052.6L1074.2 1060.7L1074.7 1050.6L1075.2 1057.6L1075.7 1051.4L1076.2 1060.5L1076.7 1049.4L1077.2 1059.7L1077.7 1045.6L1078.2 1059.6L1078.7 1044.9L1079.2 1055.2L1079.7 1047.5L1080.2 1057.5L1080.7 1044.3L1081.2 1059.1L1081.7 1046.5L1082.2 1053.6L1082.7 1050.6L1083.2 1057.1L1083.7 1052.3L1084.2 1060.9L1084.7 1058.3L1085.2 1066.4L1085.7 1060.7L1086.2 1068L1086.7 1058.1L1087.2 1075.6L1087.7 1055.8L1088.2 1071.9L1088.7 1063.1L1089.2 1074.9L1089.7 1054.8L1090.2 1071.6L1090.7 1052.1L1091.2 1072.8L1091.7 1057.3L1092.2 1066.2L1092.7 1059.2L1093.2 1071L1093.7 1055.4L1094.2 1073.5L1094.7 1062.5L1095.2 1075.3L1095.7 1060.1L1096.2 1070.8L1096.7 1065.5L1097.2 1084L1097.7 1060.1L1098.2 1074.5L1098.7 1062.1L1099.2 1069L1099.7 1058L1100.2 1068L1100.7 1057.7L1101.2 1069.2L1101.7 1057.6L1102.2 1070.8L1102.7 1063.4L1103.2 1069.9L1103.7 1053.8L1104.2 1071.5L1104.7 1065.8L1105.2 1073.9L1105.7 1065.9L1106.2 1080.3L1106.7 1066L1107.2 1074.7L1107.7 1066.6L1108.2 1072.1L1108.7 1064.1L1109.2 1074.4L1109.7 1058.6L1110.2 1072.1L1110.7 1059.5L1111.2 1071.3L1111.7 1065.1L1112.2 1083.1L1112.7 1067.5L1113.2 1074.6L1113.7 1068.3L1114.2 1080L1114.7 1063L1115.2 1080.2L1115.7 1067.2L1116.2 1077.7L1116.7 1054.5L1117.2 1089L1117.7 1058.7L1118.2 1088.7L1118.7 1057.9L1119.2 1072.9L1119.7 1055.2L1120.2 1075.7L1120.7 1056.6L1121.2 1075.4L1121.7 1064.7L1122.2 1073.9L1122.7 1066.1L1123.2 1080.6L1123.7 1064.9L1124.2 1083.4L1124.7 1064.9L1125.2 1083L1125.7 1069.1L1126.2 1082L1126.7 1067.9L1127.2 1076.6L1127.7 1066.1L1128.2 1078.5L1128.7 1072.8L1129.2 1082.5L1129.7 1074L1130.2 1086.7L1130.7 1074.1L1131.2 1082.2L1131.7 1073.2L1132.2 1082.5L1132.7 1062.2L1133.2 1088.6L1133.7 1074.5L1134.2 1079.9L1134.7 1075.6L1135.2 1082.2L1135.7 1077.2L1136.2 1083.8L1136.7 1076.4L1137.2 1096.2L1137.7 1080.6L1138.2 1086.3L1138.7 1078.6L1139.2 1086.2L1139.7 1079L1140.2 1086.7L1140.7 1076.7L1141.2 1088.3L1141.7 1067.7L1142.2 1081.7L1142.7 1073.7L1143.2 1089.2L1143.7 1068.1L1144.2 1079.6L1144.7 1072L1145.2 1086.8L1145.7 1072.9L1146.2 1081.4L1146.7 1067.3L1147.2 1092.6L1147.7 1076.9L1148.2 1083.6L1148.7 1066.8L1149.2 1091.1L1149.7 1068.5L1150.2 1093.7L1150.7 1074L1151.2 1085.9L1151.7 1080.4L1152.2 1085.8L1152.7 1075.9L1153.2 1090.4L1153.7 1078L1154.2 1090.2L1154.7 1077.2L1155.2 1091.6L1155.7 1085.3L1156.2 1097.5L1156.7 1077.7L1157.2 1094.7L1157.7 1076L1158.2 1094.3L1158.7 1083.8L1159.2 1093.3L1159.7 1080.6L1160.2 1092L1160.7 1080.3L1161.2 1090.5L1161.7 1065.6L1162.2 1087L1162.7 1070.2L1163.2 1092.7L1163.7 1075.5L1164.2 1097L1164.7 1090.8L1165.2 1101.5L1165.7 1096.4L1166.2 1111.9L1166.7 1098.9L1167.2 1108.1L1167.7 1102L1168.2 1110.3L1168.7 1098.6L1169.2 1114.2L1169.7 1105.3L1170.2 1114.4L1170.7 1109.7L1171.2 1116.3L1171.7 1110.7L1172.2 1119.3L1172.7 1115.3L1173.2 1122.6L1173.7 1113.1L1174.2 1126.7L1174.7 1115.8L1175.2 1133.3L1175.7 1118.5L1176.2 1131.7L1176.7 1111.9L1177.2 1125.5L1177.7 1111.9L1178.2 1124.6L1178.7 1115.4L1179.2 1123.4L1179.7 1115.3L1180.2 1121L1180.7 1115.1L1181.2 1131.2L1181.7 1115.3L1182.2 1121L1182.7 1115.1L1183.2 1122L1183.7 1114.2L1184.2 1127.4L1184.7 1106.3L1185.2 1126.9L1185.7 1116L1186.2 1123.6L1186.7 1105.8L1187.2 1134.3L1187.7 1109.8L1188.2 1124.7L1188.7 1105.4L1189.2 1127.4L1189.7 1113.2L1190.2 1122.2L1190.7 1115.3L1191.2 1134.3L1191.7 1104.9L1192.2 1121.9L1192.7 1114.8L1193.2 1124.7L1193.7 1116.2L1194.2 1134.4L1194.7 1108.4L1195.2 1135.9L1195.7 1111.9L1196.2 1134.8L1196.7 1118.4L1197.2 1133L1197.7 1119.5L1198.2 1126L1198.7 1112L1199.2 1126.3L1199.7 1122.2L1200.2 1129.5L1200.7 1119.5L1201.2 1128.9L1201.7 1124.6L1202.2 1137.1L1202.7 1122L1203.2 1133.2L1203.7 1131.7L1204.2 1138.4L1204.7 1131.3L1205.2 1141.6L1205.7 1138.1L1206.2 1144.9L1206.7 1135.8L1207.2 1153.2L1207.7 1126.1L1208.2 1146.2L1208.7 1135.9L1209.2 1157.2L1209.7 1132.2L1210.2 1148.5L1210.7 1121.2L1211.2 1140.1L1211.7 1122.3L1212.2 1146.5L1212.7 1126.9L1213.2 1145.6L1213.7 1122.4L1214.2 1137.3L1214.7 1125.7L1215.2 1147.4L1215.7 1117.3L1216.2 1150L1216.7 1128.1L1217.2 1142.5L1217.7 1120.5L1218.2 1138.6L1218.7 1123.4L1219.2 1149.1L1219.7 1121.2L1220.2 1148.2L1220.7 1126.6L1221.2 1135.8L1221.7 1121.6L1222.2 1133.2L1222.7 1122.1L1223.2 1140.2L1223.7 1125.7L1224.2 1136.4L1224.7 1128.2L1225.2 1133.8L1225.7 1117.2L1226.2 1138.6L1226.7 1122.8L1227.2 1137.2L1227.7 1130.2L1228.2 1150L1228.7 1123L1229.2 1140.5L1229.7 1131.2L1230.2 1140.7L1230.7 1129.8L1231.2 1141.1L1231.7 1122.4L1232.2 1143.8L1232.7 1132.7L1233.2 1158.4L1233.7 1135.8L1234.2 1144.3L1234.7 1136.8L1235.2 1147.5L1235.7 1139.1L1236.2 1159.9L1236.7 1139.2L1237.2 1147L1237.7 1139.6L1238.2 1149.8L1238.7 1141.2L1239.2 1162.2L1239.7 1141.3L1240.2 1149.5L1240.7 1135.8L1241.2 1163L1241.7 1137.3L1242.2 1157.7L1242.7 1127.3L1243.2 1143.9L1243.7 1121.1L1244.2 1147.3L1244.7 1132L1245.2 1144.5L1245.7 1128.5L1246.2 1147.3L1246.7 1130.9L1247.2 1142.7L1247.7 1136L1248.2 1144.9L1248.7 1137.2L1249.2 1144.9L1249.7 1126.9L1250.2 1146.6L1250.7 1134.6L1251.2 1144.6L1251.7 1127L1252.2 1153.1L1252.7 1133.9L1253.2 1149.7L1253.7 1127.7L1254.2 1138.7L1254.7 1121.6L1255.2 1140.2L1255.7 1121.8L1256.2 1138.1L1256.7 1132.1L1257.2 1138.3L1257.7 1130.1L1258.2 1141L1258.7 1133.5L1259.2 1154.5L1259.7 1128.4L1260.2 1145.2L1260.7 1137.9L1261.2 1150L1261.7 1137.4L1262.2 1160.4L1262.7 1127.7L1263.2 1148.1L1263.7 1135.7L1264.2 1159.3L1264.7 1136.4L1265.2 1148.6L1265.7 1122.5L1266.2 1159.8L1266.7 1139.4L1267.2 1163.5L1267.7 1143.2L1268.2 1165.9L1268.7 1142L1269.2 1172.3L1269.7 1146.4L1270.2 1165L1270.7 1148.5L1271.2 1175.1L1271.7 1144.3L1272.2 1159.9L1272.7 1134.8L1273.2 1164.6L1273.7 1144.5L1274.2 1159L1274.7 1142.2L1275.2 1156.8L1275.7 1146.6L1276.2 1158.4L1276.7 1142.1L1277.2 1161.9L1277.7 1137.6L1278.2 1161.4L1278.7 1140L1279.2 1151.1L1279.7 1135.1L1280.2 1162.3L1280.7 1139L1281.2 1149.7L1281.7 1141.7L1282.2 1149L1282.7 1136.9L1283.2 1155.7L1283.7 1138.7L1284.2 1157.8L1284.7 1145.2L1285.2 1159L1285.7 1143.6L1286.2 1157.2L1286.7 1142.4L1287.2 1163L1287.7 1151L1288.2 1170L1288.7 1144.4L1289.2 1159.5L1289.7 1137.9L1290.2 1168.2L1290.7 1143.2L1291.2 1167L1291.7 1143.1L1292.2 1156.8L1292.7 1140L1293.2 1164.6L1293.7 1135.6L1294.2 1150.2L1294.7 1131.2L1295.2 1154.1L1295.7 1132L1296.2 1148.8L1296.7 1134.5L1297.2 1141.9L1297.7 1126.1L1298.2 1144.8L1298.7 1124.2L1299.2 1146.5L1299.7 1136.2L1300.2 1146L1300.7 1136.1L1301.2 1142.8L1301.7 1137.1L1302.2 1156.5L1302.7 1128.2L1303.2 1156.6L1303.7 1126.7L1304.2 1144.7L1304.7 1139L1305.2 1158.9L1305.7 1137.9L1306.2 1150.7L1306.7 1139.5L1307.2 1147.4L1307.7 1136L1308.2 1157.8L1308.7 1122.2L1309.2 1142.8L1309.7 1128.6L1310.2 1139.5L1310.7 1122.4L1311.2 1133.6L1311.7 1115.1L1312.2 1123.5L1312.7 1111.9L1313.2 1119.4L1313.7 1106.5L1314.2 1122.9L1314.7 1107.1L1315.2 1119.5L1315.7 1106.2L1316.2 1122.5L1316.7 1101.8L1317.2 1110.8L1317.7 1091.9L1318.2 1118.7L1318.7 1099.1L1319.2 1120.7L1319.7 1107.1L1320.2 1113.5L1320.7 1101.8L1321.2 1114.6L1321.7 1108.3L1322.2 1115.2L1322.7 1101.5L1323.2 1111.9L1323.7 1104.5L1324.2 1110L1324.7 1095.6L1325.2 1108.2L1325.7 1099.6L1326.2 1105L1326.7 1095.7L1327.2 1107.6L1327.7 1089L1328.2 1099.5L1328.7 1085.9L1329.2 1096L1329.7 1083.2L1330.2 1089.2L1330.7 1078.6L1331.2 1085L1331.7 1073.4L1332.2 1084.1L1332.7 1072.9L1333.2 1079.7L1333.7 1071.1L1334.2 1079.8L1334.7 1069.9L1335.2 1076.8L1335.7 1066L1336.2 1077.2L1336.7 1060.3L1337.2 1075.8L1337.7 1050L1338.2 1059.3L1338.7 1045.1L1339.2 1053.3L1339.7 1038L1340.2 1047.2L1340.7 1030.4L1341.2 1036.5L1341.7 1021.5L1342.2 1038.1L1342.7 1019.9L1343.2 1027.5L1343.7 1014.1L1344.2 1020.8L1344.7 1010.3L1345.2 1021.7L1345.7 1014.1L1346.2 1025.3L1346.7 1010.6L1347.2 1026L1347.7 1017.2L1348.2 1036.8L1348.7 1030.6L1349.2 1036.6L1349.7 1033.8L1350.2 1045.9L1350.7 1045.2L1351.2 1056.7L1351.7 1052.3L1352.2 1070.1L1352.7 1056.2L1353.2 1073.2L1353.7 1059.1L1354.2 1081.3L1354.7 1053.5L1355.2 1085.6L1355.7 1071.5L1356.2 1088.5L1356.7 1057.2L1357.2 1082.1L1357.7 1058.6L1358.2 1085.7L1358.7 1057.8L1359.2 1076.6L1359.7 1039.3L1360.2 1068L1360.7 1048.1L1361.2 1073.6L1361.7 1059.6L1362.2 1066.1L1362.7 1052.6L1363.2 1079.4L1363.7 1069.1L1364.2 1078.7L1364.7 1073.9L1365.2 1088.7L1365.7 1071L1366.2 1079.9L1366.7 1056.1L1367.2 1076.7L1367.7 1063.3L1368.2 1077.5L1368.7 1048.7L1369.2 1063.9L1369.7 1050L1370.2 1059.9L1370.7 1051.4L1371.2 1058.4L1371.7 1046.3L1372.2 1060.8L1372.7 1045.3L1373.2 1052.9L1373.7 1042.7L1374.2 1055.1L1374.7 1042.5L1375.2 1052.4L1375.7 1047.6L1376.2 1057.7L1376.7 1045.6L1377.2 1065.7L1377.7 1061.7L1378.2 1073.4L1378.7 1056L1379.2 1082.3L1379.7 1063.3L1380.2 1081.4L1380.7 1058L1381.2 1071.8L1381.7 1056.6L1382.2 1077.3L1382.7 1055.6L1383.2 1075.8L1383.7 1068.9L1384.2 1076.9L1384.7 1070.3L1385.2 1087.1L1385.7 1062.1L1386.2 1091.5L1386.7 1060.8L1387.2 1080L1387.7 1067.8L1388.2 1083.2L1388.7 1058.4L1389.2 1071.4L1389.7 1062L1390.2 1068.9L1390.7 1059.1L1391.2 1069.6L1391.7 1052.7L1392.2 1063.1L1392.7 1052.1L1393.2 1062L1393.7 1049.1L1394.2 1058.1L1394.7 1046.5L1395.2 1052.7L1395.7 1044.9L1396.2 1057L1396.7 1046.3L1397.2 1056.8L1397.7 1046.2L1398.2 1051L1398.7 1038.5L1399.2 1050L1399.7 1037.3L1400.2 1051.4L1400.7 1032L1401.2 1048.5L1401.7 1026.5L1402.2 1043.1L1402.7 1026.7L1403.2 1034.5L1403.7 1021L1404.2 1027.8L1404.7 1015L1405.2 1022.5L1405.7 1009.1L1406.2 1015.3L1406.7 999.1L1407.2 1011.3L1407.7 1003.5L1408.2 1010.4L1408.7 1004.4L1409.2 1010.8L1409.7 1003.1L1410.2 1012.2L1410.7 1006L1411.2 1011.9L1411.7 1009.8L1412.2 1016.9L1412.7 1010.4L1413.2 1023.3L1413.7 1013.4L1414.2 1027.4L1414.7 1022.1L1415.2 1037.6L1415.7 1021.7L1416.2 1039.6L1416.7 1029L1417.2 1038.3L1417.7 1028.8L1418.2 1044.6L1418.7 1022.7L1419.2 1033.4L1419.7 1021.6L1420.2 1033.9L1420.7 1016.8L1421.2 1023.5L1421.7 1010.1L1422.2 1021.3L1422.7 1006.2L1423.2 1024L1423.7 1008.1L1424.2 1016.4L1424.7 1006.8L1425.2 1019.6L1425.7 1016L1426.2 1027.9L1426.7 1008.9L1427.2 1026.2L1427.7 1014.3L1428.2 1027.7L1428.7 1008.9L1429.2 1014.4L1429.7 1004L1430.2 1009.7L1430.7 990.9L1431.2 1007.5L1431.7 1000.5L1432.2 1007.6L1432.7 996L1433.2 1018.3L1433.7 986.3L1434.2 1006.2L1434.7 986L1435.2 1007.2L1435.7 1001.2L1436.2 1012.2L1436.7 1000.4L1437.2 1016.7L1437.7 1002.4L1438.2 1020.1L1438.7 1004L1439.2 1016.7L1439.7 1002.5L1440.2 1009.1L1440.7 995.7L1441.2 1004.3L1441.7 993L1442.2 998.7L1442.7 990L1443.2 995.7L1443.7 985.2L1444.2 993L1444.7 987.2L1445.2 994.4L1445.7 990.4L1446.2 1002.2L1446.7 993.3L1447.2 1003.3L1447.7 997.4L1448.2 1005.3L1448.7 998.8L1449.2 1006.3L1449.7 989.8L1450.2 1004.9L1450.7 991.8L1451.2 1001.4L1451.7 990L1452.2 996.6L1452.7 984.2L1453.2 993.1L1453.7 983.2L1454.2 989.2L1454.7 976.2L1455.2 985.3L1455.7 966L1456.2 977L1456.7 960.5L1457.2 970.6L1457.7 959.8L1458.2 966.1L1458.7 958.8L1459.2 966.2L1459.7 956.4L1460.2 961.9L1460.7 963.2L1461.2 972L1461.7 974.1L1462.2 982.3L1462.7 985.4L1463.2 993.1L1463.7 992.8L1464.2 1003.7L1464.7 997.5L1465.2 1009L1465.7 1000.8L1466.2 1009.5L1466.7 997.4L1467.2 1003.4L1467.7 990.4L1468.2 1001.8L1468.7 993.2L1469.2 999.8L1469.7 997.7L1470.2 1003.8L1470.7 1002.7L1471.2 1008.4L1471.7 1004.5L1472.2 1013.8L1472.7 1002.5L1473.2 1010.7L1473.7 1000.5L1474.2 1011L1474.7 997.3L1475.2 1005.4L1475.7 1000.4L1476.2 1006.2L1476.7 1002.6L1477.2 1013.9L1477.7 1003.9L1478.2 1011.6L1478.7 1004.4L1479.2 1014.6L1479.7 1008.3L1480.2 1016.2L1480.7 1009.2L1481.2 1016.2L1481.7 1008.3L1482.2 1015.6L1482.7 1008.2L1483.2 1016.6L1483.7 1003L1484.2 1012.6L1484.7 1005.4L1485.2 1014.9L1485.7 1003.5L1486.2 1014.8L1486.7 999L1487.2 1009.3L1487.7 996L1488.2 1006.5L1488.7 988.9L1489.2 998.8L1489.7 973.5L1490.2 980.7L1490.7 959.7L1491.2 966.3L1491.7 946.6L1492.2 956.8L1492.7 928.7L1493.2 938.9L1493.7 913.9L1494.2 929.5L1494.7 906.2L1495.2 915.1L1495.7 896.4L1496.2 906.4L1496.7 897.7L1497.2 904.1L1497.7 895.9L1498.2 903.8L1498.7 893.6L1499.2 901.6L1499.7 893.7L1500.2 899.7L1500.7 891.9L1501.2 902.6L1501.7 891.9L1502.2 898.1L1502.7 882.8L1503.2 892.4L1503.7 877.9L1504.2 884.9L1504.7 869.3L1505.2 880.2L1505.7 863.1L1506.2 872.1L1506.7 860.1L1507.2 866.3L1507.7 854.2L1508.2 862.6L1508.7 847.3L1509.2 857.8L1509.7 851.7L1510.2 860.5L1510.7 854.5L1511.2 862.9L1511.7 856.3L1512.2 863.9L1512.7 863.9L1513.2 874.5L1513.7 879.5L1514.2 888.8L1514.7 889.4L1515.2 895L1515.7 892.8L1516.2 899.5L1516.7 897.4L1517.2 904.1L1517.7 891.8L1518.2 897.9L1518.7 883.1L1519.2 892.3L1519.7 877.1L1520.2 888.3L1520.7 874.8L1521.2 882.8L1521.7 868.8L1522.2 875L1522.7 866.2L1523.2 873.5L1523.7 861.1L1524.2 871.3L1524.7 860.9L1525.2 871.1L1525.7 854.2L1526.2 865.3L1526.7 847.7L1527.2 859L1527.7 841.1L1528.2 846.5L1528.7 833.2L1529.2 842.7L1529.7 832.9L1530.2 842.9L1530.7 827.9L1531.2 837.4L1531.7 830.4L1532.2 840L1532.7 832.2L1533.2 843.6L1533.7 831.2L1534.2 844.6L1534.7 832.2L1535.2 839.5L1535.7 824.7L1536.2 831.4L1536.7 815.5L1537.2 822.7L1537.7 812.4L1538.2 817.9L1538.7 811L1539.2 815.6L1539.7 809.3L1540.2 813.3L1540.7 812L1541.2 818.7L1541.7 813.9L1542.2 822.2L1542.7 819.2L1543.2 824.8L1543.7 823.8L1544.2 831L1544.7 829.1L1545.2 835.3L1545.7 826.5L1546.2 832.7L1546.7 826.1L1547.2 832.1L1547.7 822.8L1548.2 832.4L1548.7 826.4L1549.2 835.2L1549.7 832.7L1550.2 839.6L1550.7 836.8L1551.2 846L1551.7 839.9L1552.2 849.3L1552.7 847.4L1553.2 854.1L1553.7 850.3L1554.2 858.5L1554.7 858.2L1555.2 864.2L1555.7 862.3L1556.2 873.2L1556.7 870.1L1557.2 878.5L1557.7 885.5L1558.2 897L1558.7 898.8L1559.2 912.4L1559.7 913.4L1560.2 921.3L1560.7 910L1561.2 921.4L1561.7 913.1L1562.2 923.2L1562.7 896.3L1563.2 903.2L1563.7 878.8L1564.2 886.1L1564.7 866L1565.2 872.6L1565.7 856.8L1566.2 864.5L1566.7 846.4L1567.2 853.8L1567.7 842.5L1568.2 848.1L1568.7 852L1569.2 860.2L1569.7 860.1L1570.2 872.3L1570.7 870.7L1571.2 890.1L1571.7 871.7L1572.2 886L1572.7 869.6L1573.2 880.8L1573.7 870.3L1574.2 876.4L1574.7 868.4L1575.2 877.5L1575.7 873.4L1576.2 880.1L1576.7 867.3L1577.2 878.2L1577.7 863.3L1578.2 871.4L1578.7 858.4L1579.2 865.6L1579.7 849.2L1580.2 856.3L1580.7 841L1581.2 847L1581.7 842.1L1582.2 851.3L1582.7 847.8L1583.2 855.1L1583.7 852L1584.2 858.4L1584.7 854.2L1585.2 860.3L1585.7 853.1L1586.2 864.7L1586.7 851.8L1587.2 862.3L1587.7 850.5L1588.2 857.8L1588.7 845L1589.2 850.9L1589.7 836.9L1590.2 845.2L1590.7 827.1L1591.2 833.4L1591.7 817.1L1592.2 823.8L1592.7 807.9L1593.2 819.8L1593.7 801L1594.2 811.1L1594.7 812.9L1595.2 823.4L1595.7 825.8L1596.2 832.4L1596.7 832.9L1597.2 846.1L1597.7 844.6L1598.2 851.7L1598.7 851.5L1599.2 863L1599.7 854.4L1600.2 864.9L1600.7 854.8L1601.2 866L1601.7 862.6L1602.2 871.7L1602.7 867.2L1603.2 877.4L1603.7 876.6L1604.2 886.4L1604.7 878.4L1605.2 890L1605.7 879.6L1606.2 893L1606.7 870.1L1607.2 880.6L1607.7 860.1L1608.2 869.3L1608.7 858.9L1609.2 867.9L1609.7 860.5L1610.2 868.5L1610.7 856.8L1611.2 867.2L1611.7 845L1612.2 857.9L1612.7 847.6L1613.2 858.9L1613.7 845.2L1614.2 852.1L1614.7 842.6L1615.2 861.8L1615.7 852.8L1616.2 862.8L1616.7 859.4L1617.2 866.6L1617.7 872.4L1618.2 879L1618.7 885.9L1619.2 891.5L1619.7 888.5L1620.2 895.6L1620.7 882.5L1621.2 892.3L1621.7 878.5L1622.2 887.3L1622.7 880.7L1623.2 890.4L1623.7 882.3L1624.2 892.6L1624.7 892.7L1625.2 907L1625.7 910L1626.2 917.4L1626.7 903.7L1627.2 914.1L1627.7 889.9L1628.2 903L1628.7 876.9L1629.2 885.5L1629.7 874.2L1630.2 887L1630.7 873.5L1631.2 888L1631.7 881.2L1632.2 890.9L1632.7 879.4L1633.2 890.4L1633.7 879.5L1634.2 886.5L1634.7 884.8L1635.2 892.6L1635.7 898.3L1636.2 906.4L1636.7 913.1L1637.2 922.6L1637.7 917.8L1638.2 926.9L1638.7 916.6L1639.2 927.1L1639.7 920.3L1640.2 931.8L1640.7 922L1641.2 929.1L1641.7 922.1L1642.2 928.9L1642.7 919.7L1643.2 928.8L1643.7 922L1644.2 929.5L1644.7 919.6L1645.2 927.5L1645.7 918.6L1646.2 926.7L1646.7 922.1L1647.2 929.1L1647.7 924.3L1648.2 935.5L1648.7 931.8L1649.2 943.5L1649.7 933L1650.2 939.9L1650.7 935.4L1650.7 935.4L1650.7 837.5L1651.3 837.5L1651.3 943.1L1651.2 943.1L1651.7 928.7L1652.2 945.6L1652.7 937.4L1653.2 943.1L1653.7 933.9L1654.2 945.4L1654.7 943L1655.2 959L1655.7 945.8L1656.2 969.3L1656.7 956.3L1657.2 975.5L1657.7 966.1L1658.2 971.5L1658.7 959.6L1659.2 978.3L1659.7 967L1660.2 977L1660.7 972.1L1661.2 977.5L1661.7 964.4L1662.2 973.3L1662.7 958.7L1663.2 968.6L1663.7 950.5L1664.2 959.4L1664.7 956.3L1665.2 962.5L1665.7 960.7L1666.2 967L1666.7 965.8L1667.2 976.3L1667.7 971.9L1668.2 987.5L1668.7 976.3L1669.2 990.5L1669.7 980.4L1670.2 997L1670.7 997.4L1671.2 1009.1L1671.7 993.8L1672.2 1010L1672.7 995.4L1673.2 1003L1673.7 991.2L1674.2 998.3L1674.7 980.6L1675.2 994L1675.7 983L1676.2 989.2L1676.7 973.1L1677.2 983.7L1677.7 970.5L1678.2 979.1L1678.7 971.7L1679.2 983.3L1679.7 975.1L1680.2 985.3L1680.7 987.2L1681.2 998.3L1681.7 986.4L1682.2 1004.5L1682.7 999.1L1683.2 1005.8L1683.7 1004.6L1684.2 1012.2L1684.7 981.7L1685.2 990.6L1685.7 963.6L1686.2 972.7L1686.7 944.5L1687.2 953L1687.7 940.5L1688.2 951.9L1688.7 939.7L1689.2 947.5L1689.7 936.9L1690.2 954.2L1690.7 936.2L1691.2 952.4L1691.7 936.8L1692.2 949.6L1692.7 945.6L1693.2 954.4L1693.7 948.4L1694.2 957L1694.7 948.6L1695.2 968.6L1695.7 959.8L1696.2 970.2L1696.7 951.2L1697.2 965.6L1697.7 946.3L1698.2 952.2L1698.7 934.8L1699.2 945.9L1699.7 925L1700.2 932.9L1700.7 909.9L1701.2 925.1L1701.7 899.5L1702.2 912.9L1702.7 897.3L1703.2 911.5L1703.7 904.9L1704.2 915.7L1704.7 898.7L1705.2 908.3L1705.7 901.4L1706.2 908.2L1706.7 903.5L1707.2 909.8L1707.7 906.4L1708.2 917.4L1708.7 908.1L1709.2 915.9L1710.6 884.4L1710.9 877.4L1711.2 879.9L1711.6 873.1L1711.9 876.4L1712.2 868L1712.6 874.6L1713 866.9L1713.3 873.6L1713.6 870.5L1713.9 884.1L1714.2 882.5L1714.6 892.7L1715 889.4L1715.4 894.9L1715.7 886.9L1716.1 892.5L1716.4 881.6L1716.8 887.9L1717.1 879.4L1717.4 883.3L1717.8 873.6L1718.1 881.7L1718.5 877.7L1718.9 888.4L1719.3 879.9L1719.6 880.7L1720 871L1720.4 875.6L1720.7 869.7L1721.1 875L1721.5 871.6L1721.9 882.5L1722.2 878.6L1722.6 879.8L1723 869.4L1723.3 870.9L1723.5 859.3L1723.7 862.3L1723.9 850.3L1724.1 852.3L1724.3 841.2L1724.4 843.3L1724.8 833.7L1725.1 833.9L1725.4 825.5L1725.8 825.6L1726.1 821.1L1726.5 829L1726.9 825.6L1727.2 831.2L1727.6 828.2L1727.9 837L1728.2 833.3L1728.6 840.4L1728.9 836L1729.3 849L1729.6 848.8L1730 861.1L1730.4 857.4L1730.7 867.3L1731.1 865.3L1731.4 876.4L1731.6 866.1L1731.7 867.8L1731.8 855.6L1731.9 857.2L1732.1 844.4L1732.2 848L1732.3 834.2L1732.4 836.8L1732.6 824.4L1732.7 828.1L1732.9 815.7L1733.1 818.8L1733.3 807.4L1733.5 806.5L1733.7 797L1733.9 798.7L1734.2 788.9L1734.6 790.7L1735 782.5L1735.3 783.7L1735.6 782.5L1735.8 794.9L1736 793.3L1736.2 804.7L1736.4 803.4L1736.5 814.1L1736.6 814.8L1736.7 822.6L1736.8 823.3L1736.9 832L1737 831.2L1737.1 841.4L1737.2 842.3L1737.6 844.6L1737.9 837.1L1738.2 843.3L1738.6 834.6L1738.9 838.7L1739.1 838.5L1739.3 850L1739.4 846.5L1739.6 860.5L1739.8 857.1L1739.9 869.4L1740.1 867.2L1740.2 879.6L1740.4 878.8L1740.6 890L1740.8 877.4L1741 880.5L1741.2 868.2L1741.4 871L1741.6 859L1741.8 859.7L1742 847.4L1742.3 850.4L1742.5 836.9L1742.8 837.8L1743.1 827.6L1743.3 828.7L1743.6 818.5L1743.9 818.5L1744.2 806L1744.4 806.8L1744.8 800L1745.1 803.4L1745.4 799.2L1745.8 803.5L1746.1 794.9L1746.5 804L1746.9 800.1L1747.2 810.8L1747.6 802L1748 809L1748.3 800.9L1748.5 812L1748.7 810L1748.9 819.2L1749.1 820.9L1749.3 830.8L1749.6 828.5L1749.8 841.9L1750.1 838.6L1750.5 849.8L1750.9 847.1L1751.2 850.3L1751.6 841.5L1751.9 844.9L1752.2 837.1L1752.6 836.7L1753 825.9L1753.3 829.3L1753.7 822.3L1754 823.3L1754.3 815.6L1754.7 821.1L1755 812.4L1755.3 815.8L1755.7 806.7L1756 809.8L1756.3 802.1L1756.7 805.5L1756.9 796.1L1757.2 794.5L1757.5 785.9L1757.8 786.1L1758.1 779L1758.4 781L1758.8 773.4L1759.1 775.7L1759.4 773.2L1759.7 783.4L1760 781.8L1760.4 791L1760.7 789.4L1761.1 800.8L1761.5 796.8L1761.9 808L1762.2 802.7L1762.6 812.4L1762.9 810.9L1763.3 819.7L1763.7 817.8L1764 821.3L1764.3 812.1L1764.7 811.4L1765 804L1765.2 803.2L1765.4 793.5L1765.6 791L1765.7 780.3L1765.9 780L1766.1 769.7L1766.4 772.4L1766.7 763.1L1767 764L1767.3 754.1L1767.7 761.9L1768 762.8L1768.3 772.6L1768.7 770.6L1769.1 776.5L1769.4 773.8L1769.8 782L1770.1 778.6L1770.4 785.1L1770.8 783.5L1771.1 791.2L1771.5 780.4L1771.9 784.6L1772.2 775.9L1772.6 780.2L1772.9 771.7L1773.2 775.7L1773.6 770.5L1773.9 772L1774.1 762.6L1774.4 764.1L1774.8 754.1L1775.2 753.4L1775.6 743.3L1775.9 747.2L1776.1 738.4L1776.4 742L1776.4 732.9L1776.4 731.9L1776.4 723.6L1776.4 723.3L1776.4 713.4L1776.4 713.2L1776.4 705.1L1776.3 702.9L1776.3 694.2L1776.6 695.4L1776.9 687.8L1777.2 688.5L1777.5 680.8L1777.8 690.2L1778.2 689.4L1778.5 698.7L1778.8 698.8L1779.2 706.4L1779.4 707.6L1779.7 718.1L1780 717L1780.3 726.8L1780.6 728.6L1780.8 737.1L1781.1 736.6L1781.5 742.4L1781.8 741.4L1782.1 749.6L1782.4 749.2L1782.7 755.2L1783 754.1L1783.3 754.5L1783.7 742.8L1784 744.4L1784.3 733.3L1784.7 732.4L1785 726.6L1785.2 728.8L1785.5 721.6L1785.8 724.9L1786.2 723.1L1786.5 732.9L1786.8 731.6L1787.2 742.5L1787.5 740.7L1787.8 748L1788.2 746.3L1788.5 751.4L1788.8 748.9L1789.2 756.9L1789.5 748.4L1789.8 750.5L1790.2 743.2L1790.5 743.8L1790.8 734.6L1791.2 737.8L1791.5 728.2L1791.8 728.9L1792.2 722.4L1792.5 721.9L1792.8 714.7L1793.2 718.8L1793.5 711.6L1793.8 713.7L1794.2 707.3L1794.5 708.8L1794.8 705.4L1795.2 707.6L1795.5 702.2L1795.8 706.4L1796.2 698.9L1796.5 700.1L1796.8 693.4L1797.2 693.6L1797.5 688.7L1797.8 689L1798.2 681.6L1798.5 681.8L1798.8 675.7L1799.2 674.4L1799.4 669.8L1799.7 674L1800 668.8L1800.3 674.5L1800.7 671.6L1801 677.5L1801.3 677.2L1801.6 677.3L1801.9 671.4L1802.2 671.3L1802.5 665.4L1802.8 665.9L1803.1 657.4L1803.4 658.7L1803.7 652.2L1804 649.9L1804.3 642.3L1804.7 640.9L1805 632.8L1805.3 631.7L1805.7 622.1L1806 620.7L1806.2 610.3L1806.4 608.7L1806.7 600.4L1807 597.3L1807.2 589.7L1807.5 586.8L1807.8 578.2L1808.1 577.4L1808.3 567.8L1808.6 567L1808.8 558.4L1809.1 555.3L1809.3 547.5L1809.6 546.7L1809.8 537.1L1810 535.3L1810.2 527.5L1810.3 525.3L1810.5 517.4L1810.7 515.9L1810.9 507.7L1811.1 505.1L1811.3 497.9L1811.4 495.5L1811.6 487.5L1811.7 485.8L1811.9 478.6L1812 476.9L1812.2 469.1L1812.3 466L1812.5 459.2L1812.8 457.8L1813.2 453.1L1813.5 451.9L1813.9 446.8L1814.2 446.1L1814.6 445.7L1814.9 451.3L1815.2 451.5L1815.5 456.4L1815.8 448.1L1816 445.8L1816.2 438.9L1816.5 436.4L1816.8 428.5L1817 426.9L1817.2 418.9L1817.3 417.4L1817.5 409.4L1817.6 407.3L1817.8 400.9L1817.9 398.4L1818.1 391.2L1818.2 388.3L1818.4 381.7L1818.5 378.8L1818.6 372.8L1818.8 369.6L1818.9 362.7L1819 360.9L1819.1 353.6L1819.2 351.3L1819.4 344.5L1819.5 341.5L1819.6 333.6L1819.7 330.8L1819.8 324.4L1819.9 321.2L1820 313.6L1820.2 311.2L1820.3 304L1820.5 301.3L1820.7 293.9L1820.8 290.9L1821 284.4L1821.2 280.5L1821.5 274L1821.8 271.2L1822 263.7L1822.3 263L1822.6 257.6L1822.9 256.5L1823.2 251.2L1823.6 251L1823.9 246.5L1824.2 245.6L1824.6 247.3L1824.9 253L1825.2 255.3L1825.6 252.1L1825.9 244.9L1826.2 241.2L1826.6 236.6L1827 234.5L1827.3 230.6L1827.7 228.8L1828 224.6L1828.3 221.9L1828.6 216.1L1828.9 213.5L1829.2 208.6L1829.5 205.4L1829.8 199.5L1830.1 196L1830.4 189.1L1830.7 185.4L1831 179.5L1831.3 177.8L1831.6 172.8L1831.9 171.3L1832.2 167.1L1832.5 165.9L1832.8 163.7L1833.2 164.6L1833.5 162.4L1833.8 162.8L1834.2 161.1L1834.5 163.1L1834.8 162.6L1835.1 164.4L1835.4 163.2L1835.7 165.4L1836 165L1836.4 166.9L1836.7 165.7L1837 165.6L1837.3 162.6L1837.7 162.1L1838 158.7L1838.3 158L1838.7 154.5L1839 154.7L1839.3 151.4L1839.7 150.7L1840 153L1840.2 157.9L1840.5 160.2L1840.8 165.3L1841.2 159.9L1841.5 156.4L1841.8 150.2L1842.2 146.9L1842.5 140.7L1842.8 144.3L1843.2 145.3L1843.5 149.1L1843.8 150L1844.2 153.7L1844.5 154L1844.8 156L1845.1 155.7L1845.4 157.7L1845.7 157.5L1846 159.9L1846.3 159.7L1846.7 158L1847 153.7L1847.3 152.5L1847.7 148.3L1848 146.4L1848.3 142.8L1848.6 145.9L1849 146.7L1849.3 150L1849.6 150.2L1849.9 153.6L1850.2 154.3L1850.5 157.2L1850.8 153.7L1851.1 152.4L1851.4 148.7L1851.8 147.6L1852.1 144L1852.4 142.9L1852.7 138.8L1853 137.9L1853.3 134.1L1853.6 135.1L1854 133.5L1854.3 133.5L1854.6 131.8L1854.9 132.2L1855.2 130.7L1855.5 131.2L1855.8 129.3L1856.2 132.8L1856.5 133.5L1856.8 137.6L1857.2 138.1L1857.5 141.9L1857.8 142.9L1858.2 145.9L1858.5 147.3L1858.8 150.7L1859.1 144.8L1859.4 142L1859.7 136.7L1860 133.5L1860.3 127.9L1860.6 131.2L1861 131.8L1861.3 135L1861.6 135.1L1861.9 138.8L1862.2 139L1862.5 142.3L1862.8 138.6L1863.2 137.5L1863.5 133.5L1863.8 132.3L1864.2 128.2L1864.5 126.9L1864.8 123L1865.2 121.9L1865.5 117.6L1865.8 116.6L1866.2 112.5L1866.5 118.8L1866.8 122L1867.1 128.1L1867.4 131.6L1867.7 137.1L1868 140.6L1868.3 146.2L1868.6 144L1869 144.6L1869.3 142.7L1869.6 142.8L1869.9 140.7L1870.2 140.7L1870.5 138.8L1870.8 138.7L1871.1 133.4L1871.4 130.8L1871.7 124.9L1872 122.3L1872.3 120.2L1872.7 119.9L1873 118L1873.3 118L1873.7 115.1L1874 115.2L1874.3 112.9L1874.7 112.8L1874.9 110.5L1875.2 109.9L1875.5 108"/>
</g>
<g stroke="#000" fill="none"><path stroke-width="3.33" d="M444.5 1177.5v15"/><path stroke-width="3.33" d="M686.5 1177.5v15"/><path stroke-width="3.33" d="M928.5 1177.5v15"/><path stroke-width="3.33" d="M1169.5 1177.5v15"/><path stroke-width="3.33" d="M1411.5 1177.5v15"/><path stroke-width="3.33" d="M1653.5 1177.5v15"/><path stroke-width="3.33" d="M279.5 299.5h-15"/><path stroke-width="2.5" d="M279.5 1050.5h-8"/><path stroke-width="2.5" d="M279.5 861.5h-8"/><path stroke-width="2.5" d="M279.5 727.5h-8"/><path stroke-width="2.5" d="M279.5 623.5h-8"/><path stroke-width="2.5" d="M279.5 538.5h-8"/><path stroke-width="2.5" d="M279.5 466.5h-8"/><path stroke-width="2.5" d="M279.5 404.5h-8"/><path stroke-width="2.5" d="M279.5 349.5h-8"/></g>
<rect x="279.5" y="112.5" width="1596" height="1065" fill="none" stroke="#000" stroke-width="3.33" stroke-linejoin="miter"/>
<rect x="300.3" y="1018.5" width="320.9" height="138.2" rx="8.33" ry="8.33" fill="#fff" fill-opacity="0.8" stroke="#cccccc" stroke-opacity="0.8" stroke-width="4.17"/>
<path d="M317 1053.6H400.3" stroke="#ff0000" stroke-width="2.08" stroke-linecap="square"/>
<path d="M317 1116.4H400.3" stroke="#000" stroke-width="2.08" stroke-linecap="square"/>
<g font-family="'Liberation Sans', sans-serif" fill="#000" style="opacity:0.999">
<text transform="translate(378.3 87.8)" font-size="53.00" y="0" xml:space="preserve"><tspan x="1.3" textLength="29.49" lengthAdjust="spacingAndGlyphs">P</tspan><tspan x="28.8" textLength="30.04" lengthAdjust="spacingAndGlyphs">e</tspan><tspan x="60.2" textLength="25.01" lengthAdjust="spacingAndGlyphs">a</tspan><tspan x="90.5" textLength="27.95" lengthAdjust="spacingAndGlyphs">k</tspan> <tspan x="134.7" textLength="18.24" lengthAdjust="spacingAndGlyphs">f</tspan><tspan x="153.4" textLength="11.36" lengthAdjust="spacingAndGlyphs">i</tspan><tspan x="166.6" textLength="30.04" lengthAdjust="spacingAndGlyphs">e</tspan><tspan x="198.1" textLength="11.36" lengthAdjust="spacingAndGlyphs">l</tspan><tspan x="211.4" textLength="30.22" lengthAdjust="spacingAndGlyphs">d</tspan> <tspan x="259.9" textLength="23.96" lengthAdjust="spacingAndGlyphs">s</tspan><tspan x="285.4" textLength="29.98" lengthAdjust="spacingAndGlyphs">u</tspan><tspan x="317" textLength="47.46" lengthAdjust="spacingAndGlyphs">m</tspan><tspan x="366.4" textLength="23.96" lengthAdjust="spacingAndGlyphs">s</tspan> <tspan x="407.2" textLength="18.24" lengthAdjust="spacingAndGlyphs">f</tspan><tspan x="425.2" textLength="29.56" lengthAdjust="spacingAndGlyphs">o</tspan><tspan x="455.5" textLength="21.33" lengthAdjust="spacingAndGlyphs">r</tspan> <tspan x="492.5" textLength="33.63" lengthAdjust="spacingAndGlyphs">K</tspan><tspan x="525.5" textLength="34.53" lengthAdjust="spacingAndGlyphs">R</tspan><tspan x="560.4" textLength="29.31" lengthAdjust="spacingAndGlyphs">0</tspan><tspan x="592.1" textLength="29.31" lengthAdjust="spacingAndGlyphs">0</tspan><tspan x="623.9" textLength="29.31" lengthAdjust="spacingAndGlyphs">0</tspan><tspan x="655.1" textLength="33.63" lengthAdjust="spacingAndGlyphs">K</tspan><tspan x="687.3" textLength="24.80" lengthAdjust="spacingAndGlyphs">_</tspan><tspan x="713.2" textLength="28.25" lengthAdjust="spacingAndGlyphs">2</tspan><tspan x="745.1" textLength="29.31" lengthAdjust="spacingAndGlyphs">0</tspan><tspan x="776.7" textLength="28.25" lengthAdjust="spacingAndGlyphs">2</tspan><tspan x="809.2" textLength="27.66" lengthAdjust="spacingAndGlyphs">5</tspan><tspan x="840.8" textLength="28.00" lengthAdjust="spacingAndGlyphs">1</tspan><tspan x="872.5" textLength="28.00" lengthAdjust="spacingAndGlyphs">1</tspan><tspan x="903.7" textLength="28.25" lengthAdjust="spacingAndGlyphs">2</tspan><tspan x="936.2" textLength="27.66" lengthAdjust="spacingAndGlyphs">5</tspan><tspan x="966.3" textLength="24.80" lengthAdjust="spacingAndGlyphs">_</tspan><tspan x="992.4" textLength="29.31" lengthAdjust="spacingAndGlyphs">0</tspan><tspan x="1024" textLength="29.63" lengthAdjust="spacingAndGlyphs">8</tspan><tspan x="1056.5" textLength="28.15" lengthAdjust="spacingAndGlyphs">3</tspan><tspan x="1087.8" textLength="28.67" lengthAdjust="spacingAndGlyphs">7</tspan><tspan x="1119.4" textLength="28.25" lengthAdjust="spacingAndGlyphs">2</tspan><tspan x="1151.5" textLength="28.67" lengthAdjust="spacingAndGlyphs">7</tspan><tspan x="1182.1" textLength="24.80" lengthAdjust="spacingAndGlyphs">_</tspan><tspan x="1207.5" textLength="30.28" lengthAdjust="spacingAndGlyphs">9</tspan><tspan x="1239.9" textLength="29.31" lengthAdjust="spacingAndGlyphs">0</tspan><tspan x="1271" textLength="30.28" lengthAdjust="spacingAndGlyphs">9</tspan><tspan x="1303.4" textLength="29.31" lengthAdjust="spacingAndGlyphs">0</tspan><tspan x="1334.5" textLength="30.28" lengthAdjust="spacingAndGlyphs">9</tspan><tspan x="1366.9" textLength="29.31" lengthAdjust="spacingAndGlyphs">0</tspan></text>
<text transform="translate(1026.1 1386.6)" font-size="44.17" y="0" xml:space="preserve"><tspan x="-1.1" textLength="27.76" lengthAdjust="spacingAndGlyphs">T</tspan><tspan x="25.2" textLength="9.46" lengthAdjust="spacingAndGlyphs">i</tspan><tspan x="36.3" textLength="39.55" lengthAdjust="spacingAndGlyphs">m</tspan><tspan x="76.5" textLength="25.03" lengthAdjust="spacingAndGlyphs">e</tspan></text>
<text transform="translate(82.3 691.3) rotate(-90)" font-size="44.17" y="0" xml:space="preserve"><tspan x="0.2" textLength="28.00" lengthAdjust="spacingAndGlyphs">A</tspan><tspan x="29.1" textLength="31.13" lengthAdjust="spacingAndGlyphs">D</tspan><tspan x="61.1" textLength="29.57" lengthAdjust="spacingAndGlyphs">U</tspan></text>
<text transform="translate(369 1328.3) rotate(-30)" font-size="44.17" y="0" xml:space="preserve"><tspan x="1.4" textLength="23.33" lengthAdjust="spacingAndGlyphs">1</tspan><tspan x="27.9" textLength="23.33" lengthAdjust="spacingAndGlyphs">1</tspan><tspan x="53" textLength="14.96" lengthAdjust="spacingAndGlyphs">-</tspan><tspan x="68.9" textLength="23.55" lengthAdjust="spacingAndGlyphs">2</tspan><tspan x="95.9" textLength="23.05" lengthAdjust="spacingAndGlyphs">5</tspan> <tspan x="135.5" textLength="23.33" lengthAdjust="spacingAndGlyphs">1</tspan><tspan x="161.7" textLength="24.43" lengthAdjust="spacingAndGlyphs">0</tspan></text>
<text transform="translate(610.8 1328.2) rotate(-30)" font-size="44.17" y="0" xml:space="preserve"><tspan x="1.4" textLength="23.33" lengthAdjust="spacingAndGlyphs">1</tspan><tspan x="27.9" textLength="23.33" lengthAdjust="spacingAndGlyphs">1</tspan><tspan x="53" textLength="14.96" lengthAdjust="spacingAndGlyphs">-</tspan><tspan x="68.9" textLength="23.55" lengthAdjust="spacingAndGlyphs">2</tspan><tspan x="95.9" textLength="23.05" lengthAdjust="spacingAndGlyphs">5</tspan> <tspan x="135.5" textLength="23.33" lengthAdjust="spacingAndGlyphs">1</tspan><tspan x="161.5" textLength="23.55" lengthAdjust="spacingAndGlyphs">2</tspan></text>
<text transform="translate(852.5 1328.3) rotate(-30)" font-size="44.17" y="0" xml:space="preserve"><tspan x="1.4" textLength="23.33" lengthAdjust="spacingAndGlyphs">1</tspan><tspan x="27.9" textLength="23.33" lengthAdjust="spacingAndGlyphs">1</tspan><tspan x="53" textLength="14.96" lengthAdjust="spacingAndGlyphs">-</tspan><tspan x="68.9" textLength="23.55" lengthAdjust="spacingAndGlyphs">2</tspan><tspan x="95.9" textLength="23.05" lengthAdjust="spacingAndGlyphs">5</tspan> <tspan x="135.5" textLength="23.33" lengthAdjust="spacingAndGlyphs">1</tspan><tspan x="161.7" textLength="24.43" lengthAdjust="spacingAndGlyphs">4</tspan></text>
<text transform="translate(1094.2 1328.3) rotate(-30)" font-size="44.17" y="0" xml:space="preserve"><tspan x="1.4" textLength="23.33" lengthAdjust="spacingAndGlyphs">1</tspan><tspan x="27.9" textLength="23.33" lengthAdjust="spacingAndGlyphs">1</tspan><tspan x="53" textLength="14.96" lengthAdjust="spacingAndGlyphs">-</tspan><tspan x="68.9" textLength="23.55" lengthAdjust="spacingAndGlyphs">2</tspan><tspan x="95.9" textLength="23.05" lengthAdjust="spacingAndGlyphs">5</tspan> <tspan x="135.5" textLength="23.33" lengthAdjust="spacingAndGlyphs">1</tspan><tspan x="161.2" textLength="25.28" lengthAdjust="spacingAndGlyphs">6</tspan></text>
<text transform="translate(1335.9 1328.4) rotate(-30)" font-size="44.17" y="0" xml:space="preserve"><tspan x="1.4" textLength="23.33" lengthAdjust="spacingAndGlyphs">1</tspan><tspan x="27.9" textLength="23.33" lengthAdjust="spacingAndGlyphs">1</tspan><tspan x="53" textLength="14.96" lengthAdjust="spacingAndGlyphs">-</tspan><tspan x="68.9" textLength="23.55" lengthAdjust="spacingAndGlyphs">2</tspan><tspan x="95.9" textLength="23.05" lengthAdjust="spacingAndGlyphs">5</tspan> <tspan x="135.5" textLength="23.33" lengthAdjust="spacingAndGlyphs">1</tspan><tspan x="161.5" textLength="24.69" lengthAdjust="spacingAndGlyphs">8</tspan></text>
<text transform="translate(1577.8 1328.2) rotate(-30)" font-size="44.17" y="0" xml:space="preserve"><tspan x="1.4" textLength="23.33" lengthAdjust="spacingAndGlyphs">1</tspan><tspan x="27.9" textLength="23.33" lengthAdjust="spacingAndGlyphs">1</tspan><tspan x="53" textLength="14.96" lengthAdjust="spacingAndGlyphs">-</tspan><tspan x="68.9" textLength="23.55" lengthAdjust="spacingAndGlyphs">2</tspan><tspan x="95.9" textLength="23.05" lengthAdjust="spacingAndGlyphs">5</tspan> <tspan x="135" textLength="23.55" lengthAdjust="spacingAndGlyphs">2</tspan><tspan x="161.5" textLength="24.43" lengthAdjust="spacingAndGlyphs">0</tspan></text>
<text transform="translate(433.2 1068.5)" font-size="44.17" y="0" xml:space="preserve"><tspan x="1.1" textLength="24.58" lengthAdjust="spacingAndGlyphs">P</tspan><tspan x="24" textLength="25.03" lengthAdjust="spacingAndGlyphs">e</tspan><tspan x="50.2" textLength="20.84" lengthAdjust="spacingAndGlyphs">a</tspan><tspan x="75.4" textLength="23.29" lengthAdjust="spacingAndGlyphs">k</tspan></text>
<text transform="translate(433.2 1131.3)" font-size="44.17" y="0" xml:space="preserve"><tspan x="0.2" textLength="28.00" lengthAdjust="spacingAndGlyphs">A</tspan><tspan x="27.1" textLength="22.48" lengthAdjust="spacingAndGlyphs">v</tspan><tspan x="51" textLength="25.03" lengthAdjust="spacingAndGlyphs">e</tspan><tspan x="76.5" textLength="17.78" lengthAdjust="spacingAndGlyphs">r</tspan><tspan x="94.3" textLength="20.84" lengthAdjust="spacingAndGlyphs">a</tspan><tspan x="119.3" textLength="25.19" lengthAdjust="spacingAndGlyphs">g</tspan><tspan x="145.6" textLength="25.03" lengthAdjust="spacingAndGlyphs">e</tspan></text>
<text><tspan font-size="44.17" x="179.2" y="316.8" textLength="23.33" lengthAdjust="spacingAndGlyphs">1</tspan><tspan font-size="44.17" x="205.4" y="316.8" textLength="24.43" lengthAdjust="spacingAndGlyphs">0</tspan><tspan font-size="30.92" x="231.8" y="300.8" textLength="17.28" lengthAdjust="spacingAndGlyphs">8</tspan></text>
<text><tspan font-size="44.17" x="108.5" y="1066.9" textLength="23.55" lengthAdjust="spacingAndGlyphs">2</tspan><tspan x="144.3" y="1071.3" font-size="52.50">×</tspan><tspan font-size="44.17" x="186.5" y="1066.9" textLength="23.33" lengthAdjust="spacingAndGlyphs">1</tspan><tspan font-size="44.17" x="212.6" y="1066.9" textLength="24.43" lengthAdjust="spacingAndGlyphs">0</tspan><tspan font-size="30.92" x="239.4" y="1050.8" textLength="16.73" lengthAdjust="spacingAndGlyphs">7</tspan></text>
<text><tspan font-size="44.17" x="109.1" y="877.8" textLength="23.46" lengthAdjust="spacingAndGlyphs">3</tspan><tspan x="144.3" y="882.2" font-size="52.50">×</tspan><tspan font-size="44.17" x="186.5" y="877.8" textLength="23.33" lengthAdjust="spacingAndGlyphs">1</tspan><tspan font-size="44.17" x="212.6" y="877.8" textLength="24.43" lengthAdjust="spacingAndGlyphs">0</tspan><tspan font-size="30.92" x="239.4" y="861.7" textLength="16.73" lengthAdjust="spacingAndGlyphs">7</tspan></text>
<text><tspan font-size="44.17" x="108.6" y="743.6" textLength="24.43" lengthAdjust="spacingAndGlyphs">4</tspan><tspan x="144.3" y="748" font-size="52.50">×</tspan><tspan font-size="44.17" x="186.5" y="743.6" textLength="23.33" lengthAdjust="spacingAndGlyphs">1</tspan><tspan font-size="44.17" x="212.6" y="743.6" textLength="24.43" lengthAdjust="spacingAndGlyphs">0</tspan><tspan font-size="30.92" x="239.4" y="727.5" textLength="16.73" lengthAdjust="spacingAndGlyphs">7</tspan></text>
<text><tspan font-size="44.17" x="108.2" y="554.5" textLength="25.28" lengthAdjust="spacingAndGlyphs">6</tspan><tspan x="144.3" y="558.9" font-size="52.50">×</tspan><tspan font-size="44.17" x="186.5" y="554.5" textLength="23.33" lengthAdjust="spacingAndGlyphs">1</tspan><tspan font-size="44.17" x="212.6" y="554.5" textLength="24.43" lengthAdjust="spacingAndGlyphs">0</tspan><tspan font-size="30.92" x="239.4" y="538.4" textLength="16.73" lengthAdjust="spacingAndGlyphs">7</tspan></text>
</g>
</svg>
</body></html>
